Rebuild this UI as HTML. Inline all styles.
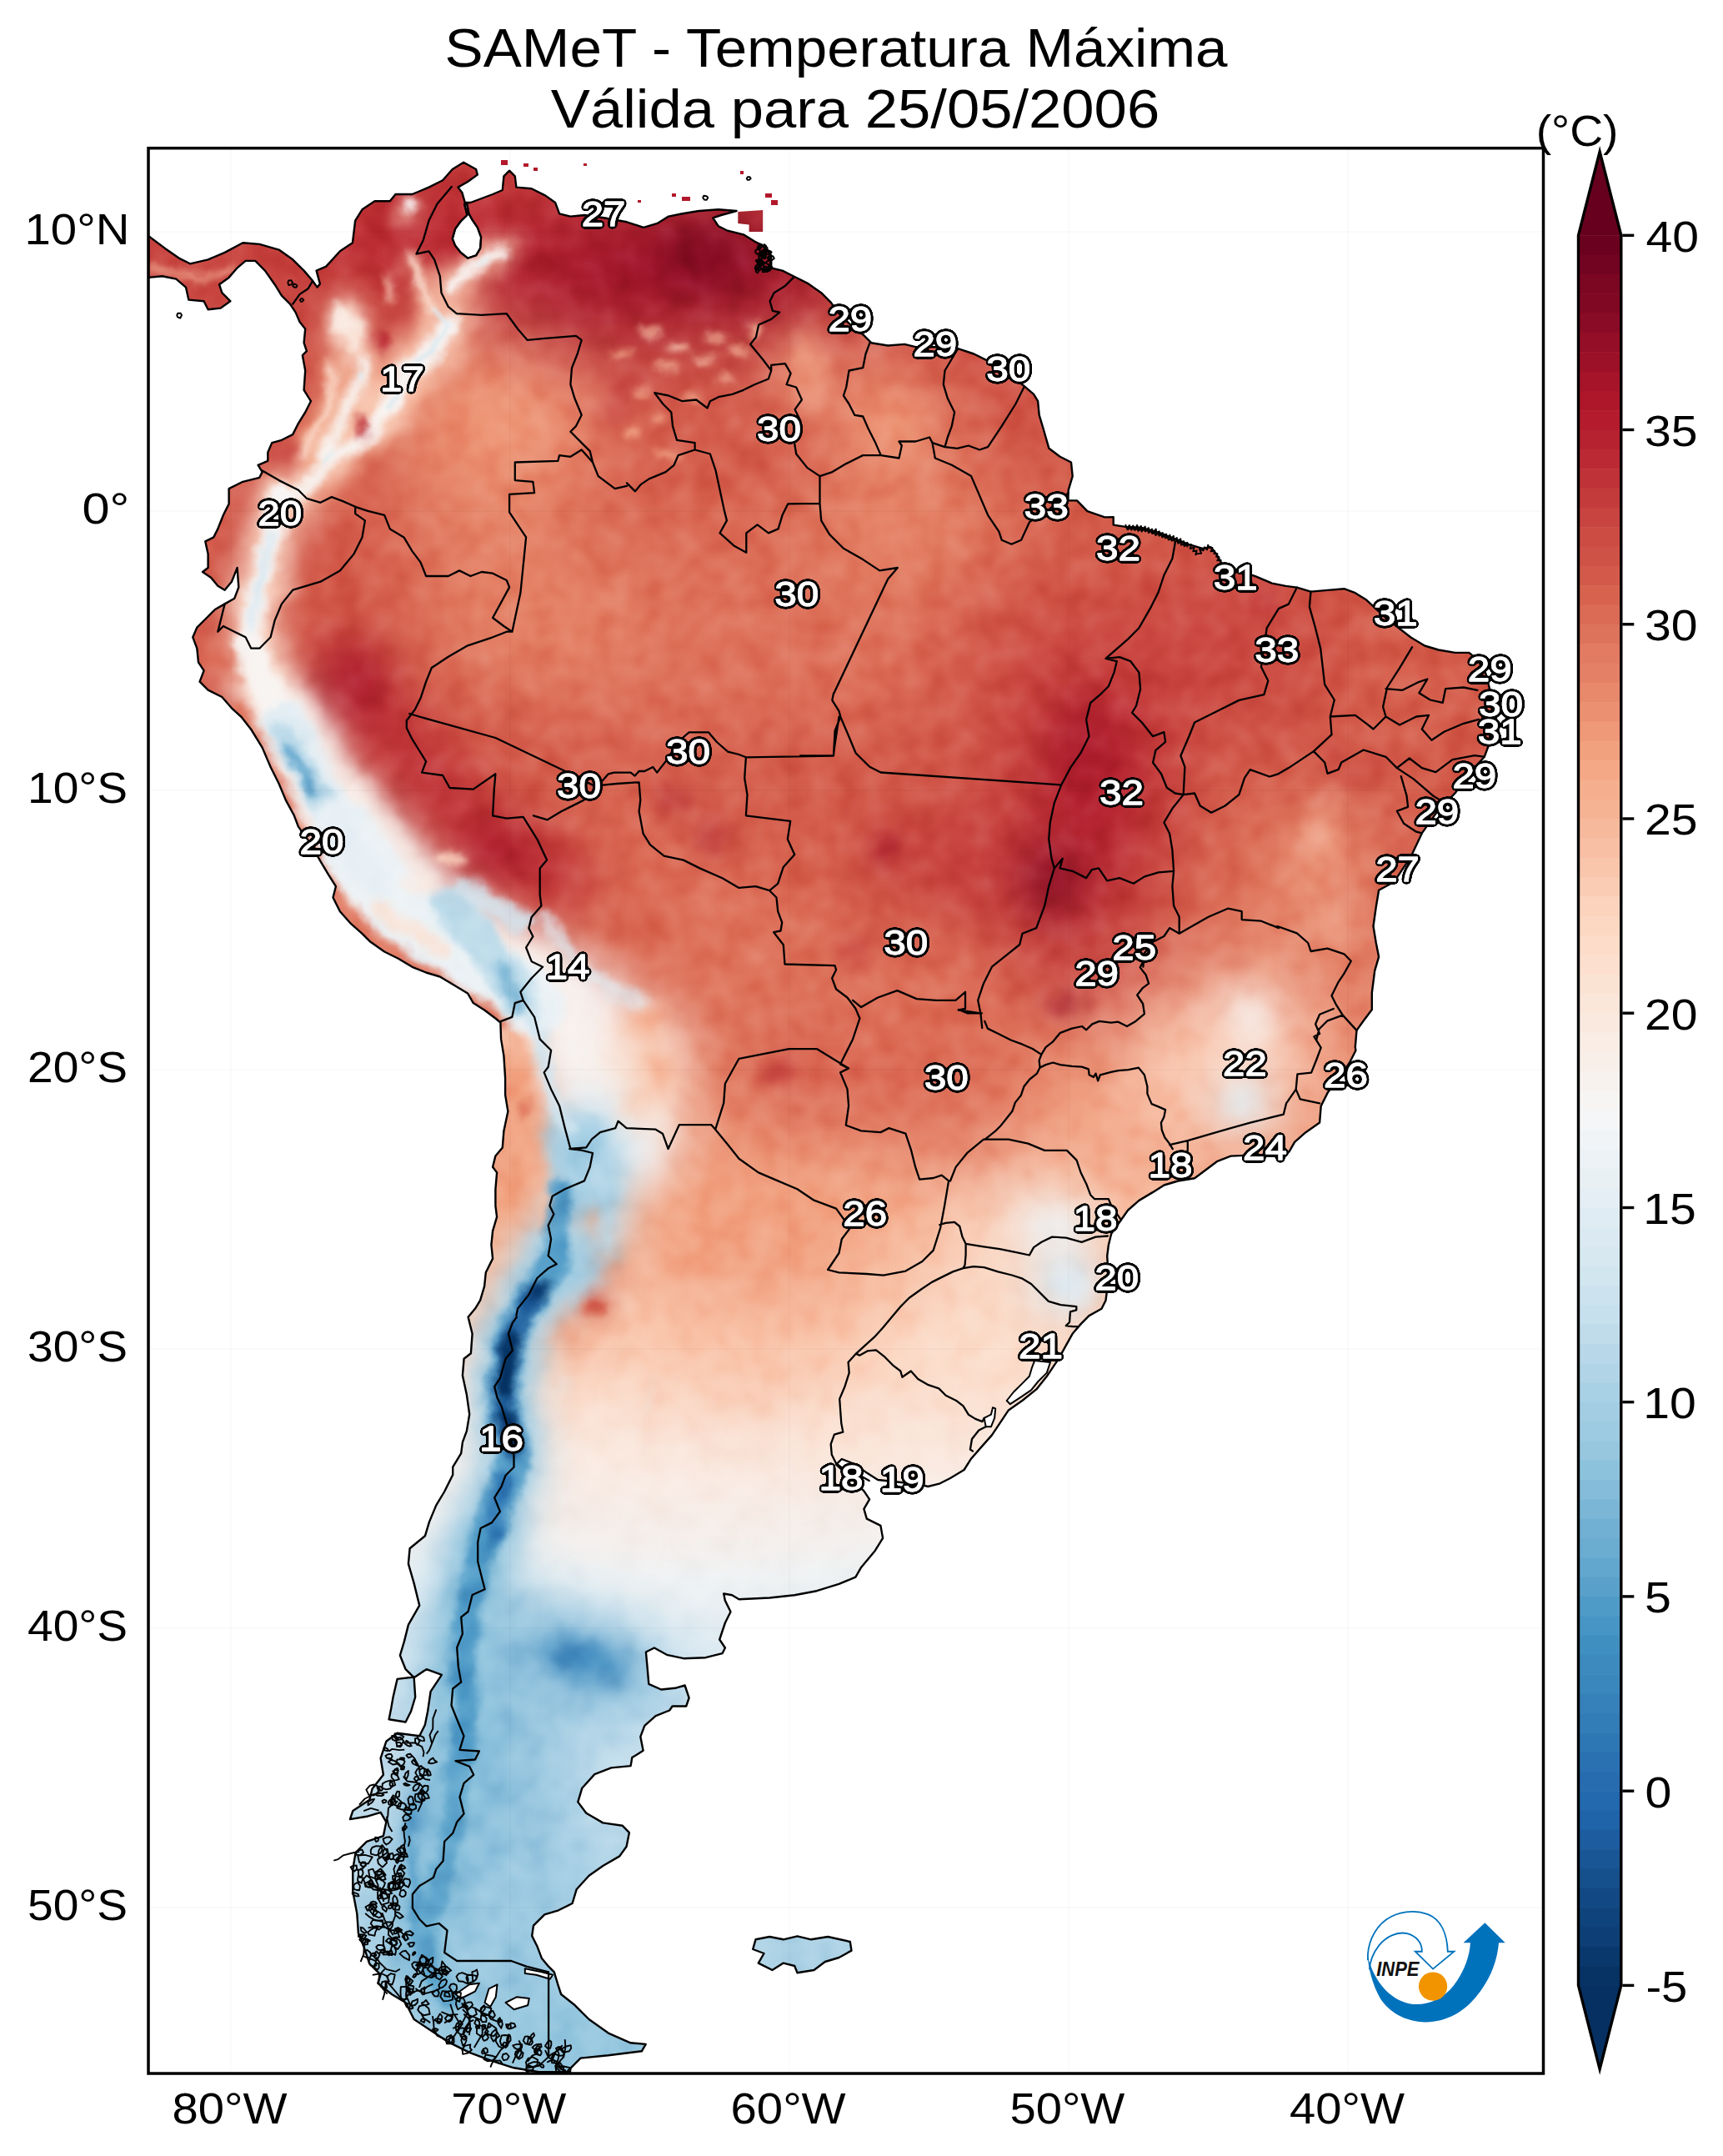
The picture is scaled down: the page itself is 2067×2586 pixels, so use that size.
<!DOCTYPE html>
<html><head><meta charset="utf-8"><title>SAMeT - Temperatura Máxima</title>
<style>html,body{margin:0;padding:0;background:#fff}svg{display:block}text{font-family:"Liberation Sans",sans-serif}</style></head><body>
<svg width="2067" height="2586" viewBox="0 0 2067 2586">
<rect width="2067" height="2586" fill="#fff"/>
<defs>
<clipPath id="frame"><rect x="178" y="177.7" width="1673.5" height="2309.3"/></clipPath>
<clipPath id="land"><path d="M178 282.9 L198 297.9 L214.6 309.6 L228 316.3 L249.6 311.3 L269.6 302.9 L291.3 291.3 L311.3 292.9 L334.6 299.6 L351.2 311.3 L364.6 324.6 L374.6 336.2 L380.6 344.6 L383.9 340.6 L379.6 324.6 L391.2 319.6 L407.9 301.3 L422.9 291.3 L426.2 264.6 L434.5 251.3 L449.5 241.3 L467.8 241.3 L474.5 233 L494.5 233 L514.5 224.6 L531.1 216.3 L542.8 203 L556.1 194.7 L571.1 203 L572.8 209.6 L561.1 218 L549.5 224.6 L554.5 231.3 L557.8 243 L564.4 243 L577.8 238 L591.1 233 L602.8 228 L604.4 211.3 L611.1 204.7 L617.8 211.3 L619.4 224.6 L637.7 226.3 L654.4 234.6 L666.1 243 L671.1 256.3 L684.4 259.6 L701 258 L724.4 261.3 L752 266.3 L772 272.9 L788.6 267.9 L802 259.6 L818.6 256.3 L838.6 253 L861.9 251.3 L883.6 253 L865.3 258 L855.3 261.3 L861.9 271.3 L871.9 276.3 L891.9 281.3 L905.2 289.6 L915.2 294.6 L925.2 306.3 L925.2 321.3 L938.6 324.6 L951.9 331.2 L968.5 339.6 L985.2 351.2 L996.9 362.9 L1005.2 374.6 L1018.5 387.9 L1035.2 401.2 L1045.2 411.2 L1065.2 414.5 L1085.1 412.9 L1098.5 416.2 L1121.8 416.2 L1148.4 417.9 L1168.4 424.5 L1185.1 432.9 L1208.4 447.8 L1228.4 462.8 L1240.1 472.8 L1245.1 481.2 L1246.7 497.8 L1251.7 514.5 L1258.4 537.8 L1271.7 547.8 L1285 554.5 L1286.7 571.1 L1281.7 587.8 L1281.4 600.4 L1292 600.4 L1304.4 613.1 L1325.3 620.4 L1335.7 620.3 L1335.7 629.6 L1350.3 631.9 L1369.3 632.9 L1392.6 639.6 L1409.3 646.3 L1425.9 652.9 L1442.6 657.9 L1452.6 656.3 L1459.3 664.6 L1465.9 676.3 L1485.9 684.6 L1505.9 691.2 L1525.9 699.6 L1542.5 702.9 L1555.9 704.6 L1572.5 709.6 L1592.5 707.9 L1612.5 706.2 L1625.8 711.2 L1639.2 719.6 L1662.5 741.2 L1692.5 764.5 L1709.1 774.5 L1725.8 779.5 L1745.8 782.9 L1762.4 782.9 L1772.4 791.2 L1782.4 807.8 L1787.4 827.8 L1790.7 857.8 L1785.7 894.5 L1780.7 907.8 L1765.8 924.4 L1745.8 951.1 L1725.8 971.1 L1705.8 999.4 L1692.5 1027.7 L1672.5 1057.7 L1654.1 1067.7 L1650.8 1087.7 L1647.5 1111 L1650.8 1131 L1654.1 1147.7 L1649.2 1164.3 L1645.8 1191 L1645.8 1211 L1635.8 1224.3 L1627.5 1235.9 L1625.8 1255.9 L1626.4 1260 L1619.7 1273.3 L1606.4 1293.3 L1593.1 1309.9 L1584.7 1326.6 L1583.1 1346.6 L1566.4 1358.2 L1553.1 1369.9 L1546.4 1381.6 L1516.4 1384.9 L1476.5 1386.6 L1459.8 1393.2 L1446.5 1403.2 L1433.1 1413.2 L1413.2 1416.5 L1396.5 1421.5 L1383.2 1429.9 L1366.5 1439.9 L1353.2 1451.5 L1344.9 1463.2 L1333.2 1479.8 L1329.9 1493.2 L1328.2 1506.5 L1329.9 1533.1 L1326.5 1559.8 L1321.5 1569.8 L1306.5 1578.1 L1296.6 1588.1 L1286.6 1599.8 L1278.2 1614.8 L1269.9 1629.8 L1256.6 1649.7 L1243.3 1666.4 L1226.6 1679.7 L1209.9 1691.4 L1199.9 1706.4 L1189.9 1721.4 L1176.6 1736.4 L1165 1749.7 L1156.6 1763 L1140 1773 L1126.7 1779.7 L1113.3 1783 L1100 1779.7 L1083.1 1778.3 L1053.1 1775 L1039.8 1766.6 L1026.4 1756.6 L1009.8 1750 L1003.1 1756.6 L1023.1 1775 L1036.4 1788.3 L1043.1 1798.3 L1036.4 1809.9 L1039.8 1821.6 L1056.4 1829.9 L1059.1 1844.9 L1049.8 1859.9 L1033.1 1879.9 L1026.4 1891.6 L1006.5 1899.9 L979.8 1908.2 L953.2 1913.2 L923.2 1916.5 L886.5 1918.2 L878.2 1913.2 L868.2 1911.5 L869.9 1919.9 L876.5 1933.2 L869.9 1946.5 L863.2 1966.5 L869.9 1976.5 L866.5 1983.2 L846.5 1988.2 L819.9 1989.2 L799.9 1984.8 L784.9 1976.5 L774.9 1981.5 L776.6 1999.8 L778.3 2019.8 L793.2 2026.5 L809.9 2024.8 L821.6 2021.5 L826.6 2036.5 L823.2 2046.5 L806.6 2046.5 L803.2 2051.5 L786.6 2058.1 L773.3 2069.8 L768.3 2083.1 L771.6 2099.8 L758.3 2108.1 L756.6 2118.1 L733.3 2120.4 L713.3 2128.1 L698.3 2144.7 L693.3 2161.4 L703.3 2174.7 L723.3 2186.4 L746.6 2189.7 L754.9 2198.1 L751.6 2214.7 L743.3 2226.4 L723.3 2238 L706.6 2249.7 L691.6 2266.3 L686.6 2283 L670 2291.3 L653.3 2296.3 L640 2309.7 L638.2 2322 L644.8 2335.3 L649.8 2348.7 L658.1 2358.7 L664.8 2365.3 L669.8 2382 L673.1 2392 L689.8 2405.3 L706.5 2422 L729.8 2438.6 L756.4 2450.3 L774.7 2451.9 L769.8 2460.3 L729.8 2465.3 L696.5 2468.6 L679.8 2485.3 L646.5 2485.3 L616.5 2480.3 L589.9 2471.9 L563.2 2461.9 L536.5 2448.6 L516.6 2435.3 L496.6 2422 L486.6 2402 L469.9 2392 L453.3 2378.7 L456.6 2368.7 L443.3 2355.3 L436.6 2335.3 L429.9 2318.7 L428.3 2295.4 L423.3 2268.7 L423.3 2242.1 L426.6 2222.1 L439.9 2208.8 L459.9 2202.1 L463.3 2185.4 L456.6 2173.8 L439.9 2178.8 L419.9 2182.1 L423.3 2172.1 L443.3 2158.8 L446.6 2145.5 L459.9 2128.8 L456.6 2108.8 L463.3 2088.8 L476.6 2078.8 L503.2 2082.2 L509.9 2068.8 L513.2 2052.2 L516.6 2028.9 L529.9 2008.9 L511.6 2002.2 L496.6 2012.2 L486.6 2002.2 L479.9 1985.5 L484.9 1968.9 L489.9 1948.9 L503.2 1925.6 L496.6 1898.9 L489.9 1875.6 L491.6 1857.3 L509.9 1842.3 L514.9 1825.6 L523.2 1805.6 L533.2 1789 L543.2 1769 L543.2 1759.7 L553.2 1743.1 L554.9 1729.8 L559.9 1716.4 L563.2 1696.4 L559.9 1673.1 L554.9 1649.8 L556.6 1629.8 L564.9 1623.2 L566.6 1599.8 L561.6 1579.8 L569.9 1569.8 L576.1 1559.6 L581.1 1542.9 L582.8 1526.3 L591.1 1509.6 L589.4 1493 L591.1 1476.3 L596.1 1459.7 L594.4 1446.3 L594.4 1426.3 L596.1 1406.4 L591.1 1399.7 L594.4 1386.4 L602.8 1376.4 L604.4 1356.4 L609.4 1333.1 L606.1 1313.1 L606.1 1293.1 L604.4 1266.4 L601.1 1246.4 L600.4 1226.5 L594.4 1221.5 L581.1 1211.5 L567.8 1203.1 L561.1 1191.5 L544.5 1181.5 L527.8 1171.5 L511.1 1166.5 L494.5 1159.8 L477.8 1149.8 L461.2 1141.5 L444.5 1129.8 L434.5 1119.9 L421.2 1108.2 L407.9 1093.2 L399.5 1076.5 L402.9 1063.2 L394.5 1049.9 L384.5 1033.2 L371.2 1009.9 L357.9 991.6 L352.9 978.3 L342.9 959.9 L334.6 940 L324.6 920 L314.6 896.6 L301.3 875 L289.6 860 L277.9 849.3 L266.3 836 L249.6 827.6 L239.6 817.6 L244.6 804.3 L238 794.3 L236.3 777.7 L231.3 764.3 L236.3 752.7 L248 741 L258 731 L269.6 724.4 L281.3 717.7 L286.3 704.4 L284.6 681 L277.9 697.7 L269.6 707.7 L261.3 702.7 L253 692.7 L243 686 L249.6 681 L249.6 664.4 L246.3 649.4 L256.3 644.4 L261.3 634.4 L267.9 617.8 L274.6 604.4 L274.6 586.1 L291.3 577.8 L311.3 572.8 L314.6 566.1 L309.6 557.8 L321.3 552.8 L321.3 542.8 L326.2 531.1 L337.9 527.8 L351.2 521.1 L357.9 507.8 L366.2 494.5 L372.9 481.2 L364.6 467.8 L366.2 444.5 L362.9 426.2 L367.9 421.2 L364.6 411.2 L366.2 394.5 L359.6 386.2 L354.6 374.6 L347.9 364.6 L337.9 354.6 L329.6 341.2 L317.9 324.6 L306.3 312.9 L294.6 312.9 L284.6 321.3 L274.6 332.9 L263 341.2 L266.3 351.2 L276.3 361.2 L264.6 369.6 L249.6 371.2 L244.6 361.2 L226.3 359.6 L223 344.6 L211.3 334.6 L194.7 331.2 L178 332.9 Z M906.5 2326.3 L923.2 2323 L939.8 2326.3 L956.5 2322.3 L973.1 2326.3 L993.1 2323 L1019.8 2329 L1021.5 2339.6 L1006.5 2348 L989.8 2353 L976.5 2363 L956.5 2366.3 L953.2 2358 L939.8 2354.6 L926.5 2363 L909.8 2354.6 L916.5 2343 L903.2 2338 Z M885.3 254 L915.2 252 L915.2 277.9 L898.6 277.9 L898.6 269.6 L885.3 267.9 Z M476.6 2013.9 L496.6 2011.5 L498.2 2035.5 L493.2 2052.2 L486.6 2065.5 L466.6 2062.2 L469.3 2048.8 L471.6 2035.5 Z" clip-rule="nonzero"/></clipPath>
<filter id="b25" color-interpolation-filters="sRGB" x="-50%" y="-50%" width="200%" height="200%"><feGaussianBlur stdDeviation="25"/></filter>
<filter id="b50" color-interpolation-filters="sRGB" x="-50%" y="-50%" width="200%" height="200%"><feGaussianBlur stdDeviation="50"/></filter>
<filter id="w12" color-interpolation-filters="sRGB" filterUnits="userSpaceOnUse" x="170" y="170" width="1690" height="2330"><feGaussianBlur stdDeviation="12" result="bl"/><feTurbulence type="fractalNoise" baseFrequency="0.022" numOctaves="3" seed="7" result="n"/><feDisplacementMap in="bl" in2="n" scale="26" xChannelSelector="R" yChannelSelector="G"/></filter>
<filter id="w5" color-interpolation-filters="sRGB" filterUnits="userSpaceOnUse" x="170" y="170" width="1690" height="2330"><feGaussianBlur stdDeviation="5" result="bl"/><feTurbulence type="fractalNoise" baseFrequency="0.035" numOctaves="3" seed="7" result="n"/><feDisplacementMap in="bl" in2="n" scale="16" xChannelSelector="R" yChannelSelector="G"/></filter>
<filter id="w2" color-interpolation-filters="sRGB" filterUnits="userSpaceOnUse" x="170" y="170" width="1690" height="2330"><feGaussianBlur stdDeviation="2" result="bl"/><feTurbulence type="fractalNoise" baseFrequency="0.06" numOctaves="3" seed="7" result="n"/><feDisplacementMap in="bl" in2="n" scale="6" xChannelSelector="R" yChannelSelector="G"/></filter>
<filter id="tex" color-interpolation-filters="sRGB" filterUnits="userSpaceOnUse" x="170" y="170" width="1690" height="2330"><feTurbulence type="fractalNoise" baseFrequency="0.03" numOctaves="2" seed="5"/><feColorMatrix type="matrix" values="1.3 0 0 0 -0.15  1.3 0 0 0 -0.15  1.3 0 0 0 -0.15  0 0 0 0 1"/></filter>
<linearGradient id="base" gradientUnits="userSpaceOnUse" x1="0" y1="177.7" x2="0" y2="2487">
<stop offset="-0.0001" stop-color="#c53e3d"/>
<stop offset="0.0724" stop-color="#c94741"/>
<stop offset="0.1885" stop-color="#d6604d"/>
<stop offset="0.3046" stop-color="#d25849"/>
<stop offset="0.3916" stop-color="#d6604d"/>
<stop offset="0.4786" stop-color="#e6866a"/>
<stop offset="0.5512" stop-color="#f6b191"/>
<stop offset="0.6237" stop-color="#fcd5bf"/>
<stop offset="0.6817" stop-color="#faeae1"/>
<stop offset="0.7397" stop-color="#eff3f5"/>
<stop offset="0.7978" stop-color="#dae9f2"/>
<stop offset="0.8558" stop-color="#c2ddec"/>
<stop offset="0.9138" stop-color="#b6d7e8"/>
<stop offset="1.0009" stop-color="#98c8e0"/>
</linearGradient>
</defs>
<g clip-path="url(#frame)">
<g clip-path="url(#land)">
<rect x="178" y="177.7" width="1673.5" height="2309.3" fill="url(#base)"/>
<g filter="url(#b50)">
<ellipse cx="790" cy="338" rx="230" ry="92" fill="#a51429" fill-opacity="0.97"/>
<ellipse cx="850" cy="305" rx="100" ry="50" fill="#870a24" fill-opacity="0.92"/>
<ellipse cx="700" cy="330" rx="80" ry="50" fill="#9f1228" fill-opacity="0.7"/>
<ellipse cx="470" cy="290" rx="80" ry="60" fill="#b61f2e" fill-opacity="0.9"/>
<ellipse cx="585" cy="300" rx="60" ry="60" fill="#b61f2e" fill-opacity="0.8"/>
<ellipse cx="600" cy="500" rx="130" ry="110" fill="#f09c7b" fill-opacity="0.95"/>
<ellipse cx="560" cy="640" rx="110" ry="70" fill="#e6866a" fill-opacity="0.7"/>
<ellipse cx="830" cy="455" rx="110" ry="55" fill="#db6b55" fill-opacity="0.8"/>
<ellipse cx="760" cy="440" rx="50" ry="45" fill="#c94741" fill-opacity="0.6"/>
<ellipse cx="985" cy="450" rx="60" ry="70" fill="#e6866a" fill-opacity="0.8"/>
<ellipse cx="1070" cy="500" rx="75" ry="65" fill="#f09c7b" fill-opacity="0.95"/>
<ellipse cx="1190" cy="500" rx="60" ry="70" fill="#d25849" fill-opacity="0.7"/>
<ellipse cx="850" cy="760" rx="320" ry="140" fill="#df765e" fill-opacity="0.85"/>
<ellipse cx="760" cy="1000" rx="90" ry="60" fill="#e27b62" fill-opacity="0.6"/>
<ellipse cx="1090" cy="630" rx="130" ry="70" fill="#e8896c" fill-opacity="0.85"/>
<ellipse cx="640" cy="740" rx="140" ry="90" fill="#e6866a" fill-opacity="0.85"/>
<ellipse cx="300" cy="640" rx="50" ry="60" fill="#c94741" fill-opacity="0.8"/>
<ellipse cx="430" cy="650" rx="50" ry="50" fill="#ce4f45" fill-opacity="0.7"/>
<ellipse cx="1300" cy="800" rx="170" ry="110" fill="#ce4f45" fill-opacity="0.8"/>
<ellipse cx="1480" cy="760" rx="120" ry="110" fill="#c94741" fill-opacity="0.8"/>
<ellipse cx="1312" cy="950" rx="72" ry="150" fill="#b1182b" fill-opacity="0.95"/>
<ellipse cx="1262" cy="1057" rx="60" ry="70" fill="#991027" fill-opacity="0.9"/>
<ellipse cx="1180" cy="1030" rx="120" ry="60" fill="#c13639" fill-opacity="0.8"/>
<ellipse cx="1290" cy="1130" rx="70" ry="70" fill="#c13639" fill-opacity="0.8"/>
<ellipse cx="1690" cy="830" rx="60" ry="90" fill="#da6853" fill-opacity="0.7"/>
<ellipse cx="1570" cy="1080" rx="100" ry="120" fill="#e6866a" fill-opacity="0.9"/>
<ellipse cx="1475" cy="1270" rx="130" ry="95" fill="#fbd0b9" fill-opacity="0.97"/>
<ellipse cx="1440" cy="1330" rx="80" ry="50" fill="#fcd5bf" fill-opacity="0.8"/>
<ellipse cx="1600" cy="1290" rx="40" ry="50" fill="#ee9677" fill-opacity="0.8"/>
<ellipse cx="880" cy="1110" rx="100" ry="70" fill="#e48066" fill-opacity="0.7"/>
<ellipse cx="1130" cy="1280" rx="120" ry="100" fill="#da6853" fill-opacity="0.9"/>
<ellipse cx="960" cy="1290" rx="90" ry="60" fill="#d55d4c" fill-opacity="0.9"/>
<ellipse cx="1300" cy="1345" rx="85" ry="50" fill="#f5ac8b" fill-opacity="0.9"/>
<ellipse cx="1240" cy="1480" rx="100" ry="70" fill="#fbe4d6" fill-opacity="0.9"/>
<ellipse cx="1180" cy="1620" rx="100" ry="70" fill="#fbe4d6" fill-opacity="0.7"/>
<ellipse cx="900" cy="1480" rx="150" ry="90" fill="#f09c7b" fill-opacity="0.9"/>
<ellipse cx="900" cy="1620" rx="140" ry="70" fill="#f8bda1" fill-opacity="0.7"/>
<ellipse cx="850" cy="1800" rx="200" ry="50" fill="#faeae1" fill-opacity="0.6"/>
<ellipse cx="700" cy="2100" rx="200" ry="120" fill="#cae1ee" fill-opacity="0.6"/>
<ellipse cx="590" cy="2150" rx="90" ry="240" fill="#87beda" fill-opacity="0.9"/>
<ellipse cx="560" cy="2050" rx="60" ry="120" fill="#78b4d5" fill-opacity="0.6"/>
<ellipse cx="640" cy="2330" rx="200" ry="110" fill="#a0cce2" fill-opacity="0.8"/>
<ellipse cx="690" cy="2440" rx="150" ry="60" fill="#90c4dd" fill-opacity="0.8"/>
</g>
<g filter="url(#b25)">
<path d="M418 800 L458 870 L538 960 L612 1025 L665 1050" fill="none" stroke="#bf3338" stroke-width="86" stroke-opacity="0.95" stroke-linecap="round" stroke-linejoin="round"/>
<ellipse cx="425" cy="819" rx="42" ry="42" fill="#a81529" fill-opacity="0.85"/>
<ellipse cx="596" cy="1022" rx="50" ry="30" fill="#a81529" fill-opacity="0.85"/>
<ellipse cx="1262" cy="1057" rx="32" ry="42" fill="#7f0823" fill-opacity="0.85"/>
<ellipse cx="1300" cy="900" rx="30" ry="60" fill="#9f1228" fill-opacity="0.6"/>
<ellipse cx="845" cy="305" rx="45" ry="28" fill="#760521" fill-opacity="0.8"/>
<path d="M560 340 L540 390 L500 430 L470 480 L420 530 L385 570 L340 620" fill="none" stroke="#f7b799" stroke-width="36" stroke-opacity="0.7" stroke-linecap="round" stroke-linejoin="round"/>
<path d="M415 370 L410 420 L425 460 L405 520 L380 570" fill="none" stroke="#f5aa89" stroke-width="34" stroke-opacity="0.7" stroke-linecap="round" stroke-linejoin="round"/>
<path d="M337 592 L320 660 L305 718 L300 760 L312 820" fill="none" stroke="#fce2d2" stroke-width="42" stroke-opacity="0.95" stroke-linecap="round" stroke-linejoin="round"/>
<path d="M312 820 L340 860" fill="none" stroke="#faeae1" stroke-width="70" stroke-opacity="0.97" stroke-linecap="round" stroke-linejoin="round"/>
<path d="M347 872 L380 944 L420 1010" fill="none" stroke="#f3f5f6" stroke-width="84" stroke-opacity="0.97" stroke-linecap="round" stroke-linejoin="round"/>
<path d="M420 1010 L470 1075 L530 1125 L590 1165 L640 1200" fill="none" stroke="#eff3f5" stroke-width="124" stroke-opacity="0.97" stroke-linecap="round" stroke-linejoin="round"/>
<path d="M645 1200 L700 1240 L732 1300 L742 1360" fill="none" stroke="#f5f6f7" stroke-width="150" stroke-opacity="0.97" stroke-linecap="round" stroke-linejoin="round"/>
<ellipse cx="750" cy="1255" rx="75" ry="60" fill="#f8f2ef" fill-opacity="0.92"/>
<ellipse cx="790" cy="1300" rx="40" ry="60" fill="#fce2d2" fill-opacity="0.7"/>
<path d="M700 1380 L695 1440 L678 1500" fill="none" stroke="#cae1ee" stroke-width="120" stroke-opacity="0.95" stroke-linecap="round" stroke-linejoin="round"/>
<path d="M665 1510 L646 1545 L625 1577 L611 1608 L609 1639 L602 1671 L606 1702 L617 1733 L613 1765 L600 1796 L590 1827 L579 1852" fill="none" stroke="#b6d7e8" stroke-width="72" stroke-opacity="0.95" stroke-linecap="round" stroke-linejoin="round"/>
<path d="M579 1852 L565 1920 L555 1990 L560 2080 L545 2180 L520 2280 L510 2340" fill="none" stroke="#87beda" stroke-width="80" stroke-opacity="0.92" stroke-linecap="round" stroke-linejoin="round"/>
<path d="M612 1240 L626 1320 L630 1400 L612 1470" fill="none" stroke="#f3a481" stroke-width="40" stroke-opacity="0.95" stroke-linecap="round" stroke-linejoin="round"/>
<ellipse cx="696" cy="1992" rx="78" ry="40" fill="#3783bb" fill-opacity="0.97" transform="rotate(15 696 1992)"/>
<ellipse cx="690" cy="1998" rx="130" ry="75" fill="#98c8e0" fill-opacity="0.7" transform="rotate(15 690 1998)"/>
<ellipse cx="1492" cy="1322" rx="38" ry="30" fill="#e6eff4" fill-opacity="0.95"/>
<ellipse cx="1500" cy="1225" rx="30" ry="45" fill="#f8f4f2" fill-opacity="0.9"/>
<ellipse cx="1278" cy="1538" rx="40" ry="42" fill="#ddebf2" fill-opacity="0.95"/>
<ellipse cx="1262" cy="1468" rx="45" ry="28" fill="#eff3f5" fill-opacity="0.9"/>
<ellipse cx="1585" cy="1010" rx="25" ry="45" fill="#f7b799" fill-opacity="0.8"/>
<ellipse cx="1600" cy="1110" rx="20" ry="30" fill="#f8bda1" fill-opacity="0.8"/>
<ellipse cx="1075" cy="512" rx="35" ry="30" fill="#f3a481" fill-opacity="0.7"/>
<ellipse cx="960" cy="445" rx="28" ry="42" fill="#f3a481" fill-opacity="0.7"/>
<ellipse cx="700" cy="1600" rx="35" ry="40" fill="#f09c7b" fill-opacity="0.6"/>
<path d="M575 1640 L560 1720 L535 1800 L515 1900 L490 1980" fill="none" stroke="#e6eff4" stroke-width="28" stroke-opacity="0.8" stroke-linecap="round" stroke-linejoin="round"/>
<path d="M490 1980 L480 2080 L470 2160" fill="none" stroke="#d5e7f1" stroke-width="30" stroke-opacity="0.7" stroke-linecap="round" stroke-linejoin="round"/>
<ellipse cx="1063" cy="1020" rx="22" ry="22" fill="#ba2832" fill-opacity="0.7"/>
<ellipse cx="808" cy="958" rx="18" ry="18" fill="#be3036" fill-opacity="0.7"/>
<ellipse cx="855" cy="1003" rx="18" ry="18" fill="#be3036" fill-opacity="0.7"/>
<ellipse cx="1010" cy="1720" rx="60" ry="40" fill="#fbe4d6" fill-opacity="0.6"/>
<ellipse cx="770" cy="1250" rx="30" ry="45" fill="#f7b799" fill-opacity="0.7"/>
</g>
<g filter="url(#w12)">
<ellipse cx="700" cy="1990" rx="48" ry="22" fill="#3b88be" fill-opacity="0.9" transform="rotate(15 700 1990)"/>
<ellipse cx="1490" cy="1325" rx="18" ry="14" fill="#e1edf3" fill-opacity="0.85"/>
<ellipse cx="1500" cy="1218" rx="8" ry="18" fill="#f7f6f6" fill-opacity="0.8"/>
<ellipse cx="1283" cy="1540" rx="20" ry="24" fill="#dae9f2" fill-opacity="0.85"/>
<ellipse cx="1265" cy="1468" rx="28" ry="12" fill="#eff3f5" fill-opacity="0.8"/>
<path d="M539 345 L553 333 L570 319 L586 309 L602 300" fill="none" stroke="#fac8af" stroke-width="34.5" stroke-opacity="0.8" stroke-linecap="round" stroke-linejoin="round"/>
<path d="M539 390 L530 404 L518 420 L504 432 L487 448 L476 470 L466 490" fill="none" stroke="#fbceb7" stroke-width="57.5" stroke-opacity="0.8" stroke-linecap="round" stroke-linejoin="round"/>
<path d="M518 370 L511 357 L504 343 L500 326 L495 310" fill="none" stroke="#f7b799" stroke-width="23" stroke-opacity="0.8" stroke-linecap="round" stroke-linejoin="round"/>
<path d="M466 490 L455 505 L443 519 L428 533 L414 542 L400 549 L389 558 L379 572 L365 586 L347 600" fill="none" stroke="#fbceb7" stroke-width="39.1" stroke-opacity="0.8" stroke-linecap="round" stroke-linejoin="round"/>
<ellipse cx="418" cy="395" rx="24" ry="40" fill="#fcdecd" fill-opacity="0.9"/>
<path d="M434 432 L433 453 L427 467 L420 481 L413 495 L407 509 L400 525 L389 544" fill="none" stroke="#fbceb7" stroke-width="29.9" stroke-opacity="0.8" stroke-linecap="round" stroke-linejoin="round"/>
<path d="M396 439 L400 457 L396 474 L391 491 L382 509 L372 530 L361 547" fill="none" stroke="#f6b191" stroke-width="20.7" stroke-opacity="0.8" stroke-linecap="round" stroke-linejoin="round"/>
<ellipse cx="491" cy="250" rx="16" ry="14" fill="#fbceb7" fill-opacity="0.8"/>
<ellipse cx="344" cy="544" rx="16" ry="14" fill="#be3036" fill-opacity="0.8"/>
<path d="M337 592 L326 637 L320 660 L320 683 L310 703 L305 718 L303 739 L301 758 L297 774" fill="none" stroke="#fddbc7" stroke-width="41.6" stroke-opacity="0.8" stroke-linecap="round" stroke-linejoin="round"/>
<path d="M297 774 L307 800 L322 830 L336 858" fill="none" stroke="#fce2d2" stroke-width="64" stroke-opacity="0.8" stroke-linecap="round" stroke-linejoin="round"/>
<path d="M340 866 L358 895 L372 925 L390 960 L410 995" fill="none" stroke="#f9eee7" stroke-width="83.2" stroke-opacity="0.8" stroke-linecap="round" stroke-linejoin="round"/>
<path d="M410 995 L440 1040 L475 1085 L520 1122 L565 1150 L605 1178 L640 1205" fill="none" stroke="#f9eee7" stroke-width="114" stroke-opacity="0.8" stroke-linecap="round" stroke-linejoin="round"/>
<ellipse cx="265" cy="790" rx="25" ry="30" fill="#da6853" fill-opacity="0.9"/>
<path d="M612 1240 L624 1300 L629 1335 L630 1400 L618 1450" fill="none" stroke="#f3a481" stroke-width="34" stroke-opacity="0.9" stroke-linecap="round" stroke-linejoin="round"/>
<ellipse cx="775" cy="1225" rx="20" ry="22" fill="#f6b191" fill-opacity="0.8"/>
<ellipse cx="790" cy="1290" rx="16" ry="28" fill="#f6b191" fill-opacity="0.8"/>
<ellipse cx="765" cy="1330" rx="14" ry="22" fill="#f9c4a9" fill-opacity="0.7"/>
<path d="M695 1375 L705 1430 L700 1480 L685 1525" fill="none" stroke="#a0cce2" stroke-width="78" stroke-opacity="0.9" stroke-linecap="round" stroke-linejoin="round"/>
<ellipse cx="715" cy="1470" rx="18" ry="26" fill="#f6b191" fill-opacity="0.7"/>
<ellipse cx="745" cy="1520" rx="16" ry="30" fill="#f5aa89" fill-opacity="0.7"/>
<path d="M665 1510 L646 1545 L625 1577 L611 1608 L609 1639 L602 1671 L606 1702 L617 1733 L613 1765 L600 1796 L590 1827 L579 1852" fill="none" stroke="#a7d0e4" stroke-width="68" stroke-opacity="0.8" stroke-linecap="round" stroke-linejoin="round"/>
<ellipse cx="717" cy="1564" rx="20" ry="16" fill="#dc6e57" fill-opacity="0.9"/>
<ellipse cx="678" cy="1600" rx="14" ry="18" fill="#ee9677" fill-opacity="0.8"/>
<ellipse cx="730" cy="1530" rx="16" ry="14" fill="#ea8e70" fill-opacity="0.7"/>
<path d="M579 1852 L566 1900 L560 1950 L555 2000 L560 2060 L550 2120" fill="none" stroke="#90c4dd" stroke-width="57" stroke-opacity="0.8" stroke-linecap="round" stroke-linejoin="round"/>
<path d="M550 2120 L540 2200 L525 2270 L505 2320 L520 2370 L540 2400" fill="none" stroke="#90c4dd" stroke-width="49.4" stroke-opacity="0.8" stroke-linecap="round" stroke-linejoin="round"/>
<ellipse cx="500" cy="2180" rx="14" ry="40" fill="#3f8ec0" fill-opacity="0.6"/>
<ellipse cx="745" cy="470" rx="14" ry="14" fill="#be3036" fill-opacity="0.7"/>
<ellipse cx="735" cy="500" rx="12" ry="12" fill="#be3036" fill-opacity="0.7"/>
<ellipse cx="765" cy="450" rx="10" ry="10" fill="#be3036" fill-opacity="0.7"/>
<ellipse cx="965" cy="430" rx="14" ry="30" fill="#f6b191" fill-opacity="0.7"/>
<ellipse cx="975" cy="470" rx="10" ry="18" fill="#f7b799" fill-opacity="0.6"/>
<ellipse cx="808" cy="958" rx="11.25" ry="11.25" fill="#a81529" fill-opacity="0.95"/>
<ellipse cx="855" cy="1003" rx="11.25" ry="11.25" fill="#a81529" fill-opacity="0.95"/>
<ellipse cx="1063" cy="1020" rx="13.75" ry="13.75" fill="#9f1228" fill-opacity="0.95"/>
<ellipse cx="1025" cy="1140" rx="11.25" ry="11.25" fill="#ba2832" fill-opacity="0.95"/>
<ellipse cx="933" cy="1283" rx="15" ry="15" fill="#be3036" fill-opacity="0.95"/>
<ellipse cx="1288" cy="1202" rx="11.25" ry="11.25" fill="#900d26" fill-opacity="0.95"/>
<ellipse cx="1264" cy="1207" rx="11.25" ry="11.25" fill="#9f1228" fill-opacity="0.95"/>
<ellipse cx="1440" cy="640" rx="10" ry="10" fill="#b1182b" fill-opacity="0.95"/>
<ellipse cx="1515" cy="720" rx="10" ry="10" fill="#b1182b" fill-opacity="0.95"/>
<ellipse cx="1600" cy="905" rx="7.5" ry="7.5" fill="#b61f2e" fill-opacity="0.95"/>
<ellipse cx="1625" cy="935" rx="7.5" ry="7.5" fill="#b61f2e" fill-opacity="0.95"/>
<ellipse cx="1655" cy="915" rx="7.5" ry="7.5" fill="#ba2832" fill-opacity="0.95"/>
<ellipse cx="1578" cy="1000" rx="10" ry="14" fill="#fac8af" fill-opacity="0.75"/>
<ellipse cx="1592" cy="1105" rx="9" ry="12" fill="#fbceb7" fill-opacity="0.75"/>
<ellipse cx="1608" cy="965" rx="8" ry="8" fill="#fcd5bf" fill-opacity="0.75"/>
<ellipse cx="1560" cy="1060" rx="8" ry="16" fill="#f7b799" fill-opacity="0.75"/>
<ellipse cx="1640" cy="1040" rx="8" ry="10" fill="#f6b191" fill-opacity="0.75"/>
<ellipse cx="1520" cy="1160" rx="10" ry="14" fill="#f7b799" fill-opacity="0.75"/>
</g>
<g filter="url(#w5)">
<path d="M539 345 L553 333 L570 319 L586 309 L602 300" fill="none" stroke="#f8f4f2" stroke-width="15" stroke-opacity="0.95" stroke-linecap="round" stroke-linejoin="round"/>
<path d="M539 390 L530 404 L518 420 L504 432 L487 448 L476 470 L466 490" fill="none" stroke="#f7f6f6" stroke-width="25" stroke-opacity="0.95" stroke-linecap="round" stroke-linejoin="round"/>
<path d="M518 370 L511 357 L504 343 L500 326 L495 310" fill="none" stroke="#fbe4d6" stroke-width="10" stroke-opacity="0.95" stroke-linecap="round" stroke-linejoin="round"/>
<path d="M466 490 L455 505 L443 519 L428 533 L414 542 L400 549 L389 558 L379 572 L365 586 L347 600" fill="none" stroke="#f8f4f2" stroke-width="17" stroke-opacity="0.95" stroke-linecap="round" stroke-linejoin="round"/>
<ellipse cx="410" cy="385" rx="12" ry="22" fill="#f9eee7" fill-opacity="0.9"/>
<ellipse cx="428" cy="402" rx="10" ry="20" fill="#faeae1" fill-opacity="0.85"/>
<path d="M434 432 L433 453 L427 467 L420 481 L413 495 L407 509 L400 525 L389 544" fill="none" stroke="#f8f4f2" stroke-width="13" stroke-opacity="0.95" stroke-linecap="round" stroke-linejoin="round"/>
<path d="M396 439 L400 457 L396 474 L391 491 L382 509 L372 530 L361 547" fill="none" stroke="#fce2d2" stroke-width="9" stroke-opacity="0.95" stroke-linecap="round" stroke-linejoin="round"/>
<path d="M467 335 L469 349 L467 359" fill="none" stroke="#fbceb7" stroke-width="8" stroke-opacity="0.85" stroke-linecap="round" stroke-linejoin="round"/>
<ellipse cx="491" cy="248" rx="9" ry="8" fill="#f7f6f6" fill-opacity="0.97"/>
<ellipse cx="460" cy="410" rx="9" ry="14" fill="#ba2832" fill-opacity="0.85"/>
<ellipse cx="434" cy="511" rx="8" ry="12" fill="#ba2832" fill-opacity="0.8"/>
<path d="M180 322 L215 330 L250 332 L280 322" fill="none" stroke="#f8bda1" stroke-width="7" stroke-opacity="0.85" stroke-linecap="round" stroke-linejoin="round"/>
<path d="M337 592 L326 637 L320 660 L320 683 L310 703 L305 718 L303 739 L301 758 L297 774" fill="none" stroke="#f7f6f6" stroke-width="26" stroke-opacity="0.95" stroke-linecap="round" stroke-linejoin="round"/>
<path d="M324 640 L320 672 L312 700 L304 725 L302 750" fill="none" stroke="#dae9f2" stroke-width="11" stroke-opacity="0.9" stroke-linecap="round" stroke-linejoin="round"/>
<path d="M297 774 L307 800 L322 830 L336 858" fill="none" stroke="#f8f4f2" stroke-width="40" stroke-opacity="0.95" stroke-linecap="round" stroke-linejoin="round"/>
<path d="M340 866 L358 895 L372 925 L390 960 L410 995" fill="none" stroke="#e1edf3" stroke-width="52" stroke-opacity="0.95" stroke-linecap="round" stroke-linejoin="round"/>
<path d="M338 880 L354 902 L366 925 L385 960 L405 995 L425 1025 L455 1055" fill="none" stroke="#b6d7e8" stroke-width="30" stroke-opacity="0.92" stroke-linecap="round" stroke-linejoin="round"/>
<path d="M346 900 L360 925 L374 950" fill="none" stroke="#5ca3cb" stroke-width="13" stroke-opacity="0.9" stroke-linecap="round" stroke-linejoin="round"/>
<path d="M410 995 L440 1040 L475 1085 L520 1122 L565 1150 L605 1178 L640 1205" fill="none" stroke="#eaf1f5" stroke-width="76" stroke-opacity="0.95" stroke-linecap="round" stroke-linejoin="round"/>
<path d="M540 1085 L570 1120 L600 1160 L622 1195" fill="none" stroke="#bbdaea" stroke-width="44" stroke-opacity="0.9" stroke-linecap="round" stroke-linejoin="round"/>
<path d="M560 1065 L590 1085 L625 1105" fill="none" stroke="#d1e5f0" stroke-width="26" stroke-opacity="0.85" stroke-linecap="round" stroke-linejoin="round"/>
<path d="M600 1160 L618 1190 L626 1205" fill="none" stroke="#81bad8" stroke-width="16" stroke-opacity="0.9" stroke-linecap="round" stroke-linejoin="round"/>
<path d="M455 1090 L495 1118 L530 1138" fill="none" stroke="#fbe4d6" stroke-width="22" stroke-opacity="0.8" stroke-linecap="round" stroke-linejoin="round"/>
<ellipse cx="538" cy="1030" rx="18" ry="10" fill="#fddbc7" fill-opacity="0.8"/>
<ellipse cx="500" cy="1060" rx="22" ry="12" fill="#faeae1" fill-opacity="0.7"/>
<path d="M285 850 L318 922 L358 1002 L398 1072 L441 1126 L490 1158 L538 1188 L575 1212 L599 1226" fill="none" stroke="#df765e" stroke-width="22" stroke-opacity="0.95" stroke-linecap="round" stroke-linejoin="round"/>
<path d="M635 1205 L648 1250 L660 1300 L675 1345 L692 1368" fill="none" stroke="#d1e5f0" stroke-width="18" stroke-opacity="0.85" stroke-linecap="round" stroke-linejoin="round"/>
<ellipse cx="692" cy="1367" rx="12" ry="12" fill="#a0cce2" fill-opacity="0.85"/>
<path d="M650 1100 L697 1159 L733 1189 L770 1203" fill="none" stroke="#e1edf3" stroke-width="16" stroke-opacity="0.7" stroke-linecap="round" stroke-linejoin="round"/>
<ellipse cx="628" cy="1330" rx="9" ry="12" fill="#df765e" fill-opacity="0.8"/>
<ellipse cx="640" cy="1400" rx="16" ry="30" fill="#f5aa89" fill-opacity="0.6"/>
<ellipse cx="655" cy="1455" rx="14" ry="22" fill="#f7b799" fill-opacity="0.6"/>
<path d="M672 1425 L668 1470 L668 1510" fill="none" stroke="#4c99c6" stroke-width="26" stroke-opacity="0.9" stroke-linecap="round" stroke-linejoin="round"/>
<path d="M715 1400 L728 1440 L725 1490" fill="none" stroke="#b6d7e8" stroke-width="16" stroke-opacity="0.7" stroke-linecap="round" stroke-linejoin="round"/>
<ellipse cx="713" cy="1568" rx="14" ry="11" fill="#da6853" fill-opacity="0.8"/>
<path d="M665 1510 L646 1545 L625 1577 L611 1608 L609 1639 L602 1671 L606 1702 L617 1733 L613 1765 L600 1796 L590 1827 L579 1852" fill="none" stroke="#529dc8" stroke-width="40" stroke-opacity="0.95" stroke-linecap="round" stroke-linejoin="round"/>
<path d="M646 1545 L628 1575 L612 1608 L609 1639 L602 1671 L606 1702 L616 1733" fill="none" stroke="#1a5899" stroke-width="24" stroke-opacity="0.97" stroke-linecap="round" stroke-linejoin="round"/>
<path d="M614 1605 L609 1640 L603 1672" fill="none" stroke="#053061" stroke-width="17" stroke-opacity="0.97" stroke-linecap="round" stroke-linejoin="round"/>
<path d="M606 1698 L617 1730" fill="none" stroke="#053061" stroke-width="16" stroke-opacity="0.97" stroke-linecap="round" stroke-linejoin="round"/>
<ellipse cx="648" cy="1547" rx="12" ry="12" fill="#0a3b70" fill-opacity="0.95"/>
<path d="M628 1575 L640 1555" fill="none" stroke="#185493" stroke-width="12" stroke-opacity="0.9" stroke-linecap="round" stroke-linejoin="round"/>
<ellipse cx="717" cy="1563" rx="7" ry="6" fill="#ce4f45" fill-opacity="0.8"/>
<path d="M683 1655 L678 1668" fill="none" stroke="#e1edf3" stroke-width="4" stroke-opacity="0.7" stroke-linecap="round" stroke-linejoin="round"/>
<path d="M783 1650 L780 1690" fill="none" stroke="#eaf1f5" stroke-width="3" stroke-opacity="0.6" stroke-linecap="round" stroke-linejoin="round"/>
<path d="M579 1852 L566 1900 L560 1950 L555 2000 L560 2060 L550 2120" fill="none" stroke="#4c99c6" stroke-width="30" stroke-opacity="0.95" stroke-linecap="round" stroke-linejoin="round"/>
<path d="M604 1772 L598 1810 L592 1840" fill="none" stroke="#246aae" stroke-width="16" stroke-opacity="0.9" stroke-linecap="round" stroke-linejoin="round"/>
<path d="M550 2120 L540 2200 L525 2270 L505 2320 L520 2370 L540 2400" fill="none" stroke="#5ca3cb" stroke-width="26" stroke-opacity="0.95" stroke-linecap="round" stroke-linejoin="round"/>
<path d="M600 1769 L596 1830 L588 1850" fill="none" stroke="#2f79b5" stroke-width="10" stroke-opacity="0.8" stroke-linecap="round" stroke-linejoin="round"/>
<path d="M495 2170 L490 2210 L500 2260 L498 2300" fill="none" stroke="#4393c3" stroke-width="12" stroke-opacity="0.7" stroke-linecap="round" stroke-linejoin="round"/>
<ellipse cx="780" cy="398" rx="14" ry="6" fill="#f9c4a9" fill-opacity="0.8"/>
<ellipse cx="815" cy="415" rx="16" ry="6" fill="#fac8af" fill-opacity="0.8"/>
<ellipse cx="860" cy="405" rx="12" ry="6" fill="#f8bda1" fill-opacity="0.8"/>
<ellipse cx="800" cy="440" rx="14" ry="5" fill="#f9c4a9" fill-opacity="0.8"/>
<ellipse cx="845" cy="430" rx="14" ry="5" fill="#fbceb7" fill-opacity="0.8"/>
<ellipse cx="885" cy="420" rx="10" ry="7" fill="#f8bda1" fill-opacity="0.8"/>
<ellipse cx="770" cy="470" rx="10" ry="5" fill="#f7b799" fill-opacity="0.8"/>
<ellipse cx="905" cy="395" rx="8" ry="12" fill="#f7b799" fill-opacity="0.8"/>
<ellipse cx="745" cy="425" rx="10" ry="6" fill="#f6b191" fill-opacity="0.8"/>
<ellipse cx="830" cy="475" rx="12" ry="5" fill="#f7b799" fill-opacity="0.8"/>
<ellipse cx="870" cy="455" rx="12" ry="5" fill="#f9c4a9" fill-opacity="0.8"/>
<ellipse cx="790" cy="500" rx="10" ry="5" fill="#f6b191" fill-opacity="0.8"/>
<ellipse cx="760" cy="520" rx="8" ry="10" fill="#f6b191" fill-opacity="0.8"/>
<ellipse cx="800" cy="545" rx="14" ry="5" fill="#f5aa89" fill-opacity="0.8"/>
</g>
<g filter="url(#w2)">
<path d="M613 1610 L609 1640 L604 1668" fill="none" stroke="#053061" stroke-width="8" stroke-opacity="0.95" stroke-linecap="round" stroke-linejoin="round"/>
<path d="M607 1702 L616 1727" fill="none" stroke="#053061" stroke-width="7" stroke-opacity="0.95" stroke-linecap="round" stroke-linejoin="round"/>
<path d="M520 372 L538 390 L520 418 L500 433" fill="none" stroke="#ddebf2" stroke-width="5" stroke-opacity="0.9" stroke-linecap="round" stroke-linejoin="round"/>
<path d="M476 474 L467 488" fill="none" stroke="#ddebf2" stroke-width="5" stroke-opacity="0.9" stroke-linecap="round" stroke-linejoin="round"/>
<path d="M400 542 L389 554" fill="none" stroke="#e1edf3" stroke-width="4" stroke-opacity="0.85" stroke-linecap="round" stroke-linejoin="round"/>
<ellipse cx="432.7" cy="450" rx="2.5" ry="6" fill="#e1edf3" fill-opacity="0.85"/>
<path d="M575 318 L586 310" fill="none" stroke="#e1edf3" stroke-width="4" stroke-opacity="0.85" stroke-linecap="round" stroke-linejoin="round"/>
</g>
<rect x="178" y="177.7" width="1673.5" height="2309.3" filter="url(#tex)" opacity="0.3" style="mix-blend-mode:soft-light"/>
</g>
<rect x="601" y="192" width="8" height="6" fill="#b2182b"/>
<rect x="628" y="196" width="6" height="4" fill="#b2182b"/>
<rect x="640" y="201" width="5" height="4" fill="#b2182b"/>
<rect x="700" y="196" width="4" height="3" fill="#b2182b"/>
<rect x="818" y="236" width="10" height="5" fill="#b2182b"/>
<rect x="806" y="232" width="5" height="4" fill="#b2182b"/>
<rect x="765" y="240" width="4" height="3" fill="#b2182b"/>
<rect x="888" y="205" width="4" height="4" fill="#b2182b"/>
<rect x="918" y="232" width="8" height="5" fill="#b2182b"/>
<rect x="925" y="240" width="8" height="6" fill="#b2182b"/>
<path d="M557.1 244.6 L560.4 258 L552.8 265.3 L546.1 274.6 L542.8 286.3 L546.1 294.6 L552.8 302.9 L561.1 309.6 L571.1 306.3 L576.1 297.9 L577.1 284.6 L572.8 272.9 L566.1 263 L562.4 256.3 L560.1 244.6 Z" fill="#fff" stroke="#000" stroke-width="2" stroke-linejoin="round"/>
<path d="M1241.2 1631.9 L1260 1634 L1255.8 1646.6 L1245.4 1657 L1237 1667.4 L1224.5 1675.8 L1211.9 1684.2 L1207.7 1680 L1216.1 1669.5 L1226.6 1659.1 L1234.9 1650.7 L1238 1640.3 Z" fill="#fff" stroke="#000" stroke-width="2" stroke-linejoin="round"/>
<path d="M1180.6 1700.9 L1188.9 1696.7 L1191 1688.3 L1194.2 1689.4 L1193.1 1700.9 L1188.9 1711.3 L1182.7 1711.3 Z" fill="#fff" stroke="#000" stroke-width="2" stroke-linejoin="round"/>
<path d="M629.8 2361.3 L649.8 2365.3 L663.1 2368.7 L659.8 2373.7 L643.2 2368.7 L629.8 2367 Z" fill="#fff" stroke="#000" stroke-width="2" stroke-linejoin="round"/>
<path d="M546.5 2392 L563.2 2380.3 L574.9 2378.7 L569.9 2388.6 L553.2 2397 Z" fill="#fff" stroke="#000" stroke-width="2" stroke-linejoin="round"/>
<path d="M581.5 2402 L586.5 2385.3 L596.5 2380.3 L594.8 2395.3 L588.2 2407 Z" fill="#fff" stroke="#000" stroke-width="2" stroke-linejoin="round"/>
<path d="M606.5 2402 L619.8 2395.3 L634.8 2397 L633.2 2405.3 L616.5 2410.3 Z" fill="#fff" stroke="#000" stroke-width="2" stroke-linejoin="round"/>
<path d="M178 282.9 L198 297.9 L214.6 309.6 L228 316.3 L249.6 311.3 L269.6 302.9 L291.3 291.3 L311.3 292.9 L334.6 299.6 L351.2 311.3 L364.6 324.6 L374.6 336.2 L380.6 344.6 L383.9 340.6 L379.6 324.6 L391.2 319.6 L407.9 301.3 L422.9 291.3 L426.2 264.6 L434.5 251.3 L449.5 241.3 L467.8 241.3 L474.5 233 L494.5 233 L514.5 224.6 L531.1 216.3 L542.8 203 L556.1 194.7 L571.1 203 L572.8 209.6 L561.1 218 L549.5 224.6 L554.5 231.3 L557.8 243 L564.4 243 L577.8 238 L591.1 233 L602.8 228 L604.4 211.3 L611.1 204.7 L617.8 211.3 L619.4 224.6 L637.7 226.3 L654.4 234.6 L666.1 243 L671.1 256.3 L684.4 259.6 L701 258 L724.4 261.3 L752 266.3 L772 272.9 L788.6 267.9 L802 259.6 L818.6 256.3 L838.6 253 L861.9 251.3 L883.6 253 L865.3 258 L855.3 261.3 L861.9 271.3 L871.9 276.3 L891.9 281.3 L905.2 289.6 L915.2 294.6 L925.2 306.3 L925.2 321.3 L938.6 324.6 L951.9 331.2 L968.5 339.6 L985.2 351.2 L996.9 362.9 L1005.2 374.6 L1018.5 387.9 L1035.2 401.2 L1045.2 411.2 L1065.2 414.5 L1085.1 412.9 L1098.5 416.2 L1121.8 416.2 L1148.4 417.9 L1168.4 424.5 L1185.1 432.9 L1208.4 447.8 L1228.4 462.8 L1240.1 472.8 L1245.1 481.2 L1246.7 497.8 L1251.7 514.5 L1258.4 537.8 L1271.7 547.8 L1285 554.5 L1286.7 571.1 L1281.7 587.8 L1281.4 600.4 L1292 600.4 L1304.4 613.1 L1325.3 620.4 L1335.7 620.3 L1335.7 629.6 L1350.3 631.9 L1369.3 632.9 L1392.6 639.6 L1409.3 646.3 L1425.9 652.9 L1442.6 657.9 L1452.6 656.3 L1459.3 664.6 L1465.9 676.3 L1485.9 684.6 L1505.9 691.2 L1525.9 699.6 L1542.5 702.9 L1555.9 704.6 L1572.5 709.6 L1592.5 707.9 L1612.5 706.2 L1625.8 711.2 L1639.2 719.6 L1662.5 741.2 L1692.5 764.5 L1709.1 774.5 L1725.8 779.5 L1745.8 782.9 L1762.4 782.9 L1772.4 791.2 L1782.4 807.8 L1787.4 827.8 L1790.7 857.8 L1785.7 894.5 L1780.7 907.8 L1765.8 924.4 L1745.8 951.1 L1725.8 971.1 L1705.8 999.4 L1692.5 1027.7 L1672.5 1057.7 L1654.1 1067.7 L1650.8 1087.7 L1647.5 1111 L1650.8 1131 L1654.1 1147.7 L1649.2 1164.3 L1645.8 1191 L1645.8 1211 L1635.8 1224.3 L1627.5 1235.9 L1625.8 1255.9 L1626.4 1260 L1619.7 1273.3 L1606.4 1293.3 L1593.1 1309.9 L1584.7 1326.6 L1583.1 1346.6 L1566.4 1358.2 L1553.1 1369.9 L1546.4 1381.6 L1516.4 1384.9 L1476.5 1386.6 L1459.8 1393.2 L1446.5 1403.2 L1433.1 1413.2 L1413.2 1416.5 L1396.5 1421.5 L1383.2 1429.9 L1366.5 1439.9 L1353.2 1451.5 L1344.9 1463.2 L1333.2 1479.8 L1329.9 1493.2 L1328.2 1506.5 L1329.9 1533.1 L1326.5 1559.8 L1321.5 1569.8 L1306.5 1578.1 L1296.6 1588.1 L1286.6 1599.8 L1278.2 1614.8 L1269.9 1629.8 L1256.6 1649.7 L1243.3 1666.4 L1226.6 1679.7 L1209.9 1691.4 L1199.9 1706.4 L1189.9 1721.4 L1176.6 1736.4 L1165 1749.7 L1156.6 1763 L1140 1773 L1126.7 1779.7 L1113.3 1783 L1100 1779.7 L1083.1 1778.3 L1053.1 1775 L1039.8 1766.6 L1026.4 1756.6 L1009.8 1750 L1003.1 1756.6 L1023.1 1775 L1036.4 1788.3 L1043.1 1798.3 L1036.4 1809.9 L1039.8 1821.6 L1056.4 1829.9 L1059.1 1844.9 L1049.8 1859.9 L1033.1 1879.9 L1026.4 1891.6 L1006.5 1899.9 L979.8 1908.2 L953.2 1913.2 L923.2 1916.5 L886.5 1918.2 L878.2 1913.2 L868.2 1911.5 L869.9 1919.9 L876.5 1933.2 L869.9 1946.5 L863.2 1966.5 L869.9 1976.5 L866.5 1983.2 L846.5 1988.2 L819.9 1989.2 L799.9 1984.8 L784.9 1976.5 L774.9 1981.5 L776.6 1999.8 L778.3 2019.8 L793.2 2026.5 L809.9 2024.8 L821.6 2021.5 L826.6 2036.5 L823.2 2046.5 L806.6 2046.5 L803.2 2051.5 L786.6 2058.1 L773.3 2069.8 L768.3 2083.1 L771.6 2099.8 L758.3 2108.1 L756.6 2118.1 L733.3 2120.4 L713.3 2128.1 L698.3 2144.7 L693.3 2161.4 L703.3 2174.7 L723.3 2186.4 L746.6 2189.7 L754.9 2198.1 L751.6 2214.7 L743.3 2226.4 L723.3 2238 L706.6 2249.7 L691.6 2266.3 L686.6 2283 L670 2291.3 L653.3 2296.3 L640 2309.7 L638.2 2322 L644.8 2335.3 L649.8 2348.7 L658.1 2358.7 L664.8 2365.3 L669.8 2382 L673.1 2392 L689.8 2405.3 L706.5 2422 L729.8 2438.6 L756.4 2450.3 L774.7 2451.9 L769.8 2460.3 L729.8 2465.3 L696.5 2468.6 L679.8 2485.3 L646.5 2485.3 L616.5 2480.3 L589.9 2471.9 L563.2 2461.9 L536.5 2448.6 L516.6 2435.3 L496.6 2422 L486.6 2402 L469.9 2392 L453.3 2378.7 L456.6 2368.7 L443.3 2355.3 L436.6 2335.3 L429.9 2318.7 L428.3 2295.4 L423.3 2268.7 L423.3 2242.1 L426.6 2222.1 L439.9 2208.8 L459.9 2202.1 L463.3 2185.4 L456.6 2173.8 L439.9 2178.8 L419.9 2182.1 L423.3 2172.1 L443.3 2158.8 L446.6 2145.5 L459.9 2128.8 L456.6 2108.8 L463.3 2088.8 L476.6 2078.8 L503.2 2082.2 L509.9 2068.8 L513.2 2052.2 L516.6 2028.9 L529.9 2008.9 L511.6 2002.2 L496.6 2012.2 L486.6 2002.2 L479.9 1985.5 L484.9 1968.9 L489.9 1948.9 L503.2 1925.6 L496.6 1898.9 L489.9 1875.6 L491.6 1857.3 L509.9 1842.3 L514.9 1825.6 L523.2 1805.6 L533.2 1789 L543.2 1769 L543.2 1759.7 L553.2 1743.1 L554.9 1729.8 L559.9 1716.4 L563.2 1696.4 L559.9 1673.1 L554.9 1649.8 L556.6 1629.8 L564.9 1623.2 L566.6 1599.8 L561.6 1579.8 L569.9 1569.8 L576.1 1559.6 L581.1 1542.9 L582.8 1526.3 L591.1 1509.6 L589.4 1493 L591.1 1476.3 L596.1 1459.7 L594.4 1446.3 L594.4 1426.3 L596.1 1406.4 L591.1 1399.7 L594.4 1386.4 L602.8 1376.4 L604.4 1356.4 L609.4 1333.1 L606.1 1313.1 L606.1 1293.1 L604.4 1266.4 L601.1 1246.4 L600.4 1226.5 L594.4 1221.5 L581.1 1211.5 L567.8 1203.1 L561.1 1191.5 L544.5 1181.5 L527.8 1171.5 L511.1 1166.5 L494.5 1159.8 L477.8 1149.8 L461.2 1141.5 L444.5 1129.8 L434.5 1119.9 L421.2 1108.2 L407.9 1093.2 L399.5 1076.5 L402.9 1063.2 L394.5 1049.9 L384.5 1033.2 L371.2 1009.9 L357.9 991.6 L352.9 978.3 L342.9 959.9 L334.6 940 L324.6 920 L314.6 896.6 L301.3 875 L289.6 860 L277.9 849.3 L266.3 836 L249.6 827.6 L239.6 817.6 L244.6 804.3 L238 794.3 L236.3 777.7 L231.3 764.3 L236.3 752.7 L248 741 L258 731 L269.6 724.4 L281.3 717.7 L286.3 704.4 L284.6 681 L277.9 697.7 L269.6 707.7 L261.3 702.7 L253 692.7 L243 686 L249.6 681 L249.6 664.4 L246.3 649.4 L256.3 644.4 L261.3 634.4 L267.9 617.8 L274.6 604.4 L274.6 586.1 L291.3 577.8 L311.3 572.8 L314.6 566.1 L309.6 557.8 L321.3 552.8 L321.3 542.8 L326.2 531.1 L337.9 527.8 L351.2 521.1 L357.9 507.8 L366.2 494.5 L372.9 481.2 L364.6 467.8 L366.2 444.5 L362.9 426.2 L367.9 421.2 L364.6 411.2 L366.2 394.5 L359.6 386.2 L354.6 374.6 L347.9 364.6 L337.9 354.6 L329.6 341.2 L317.9 324.6 L306.3 312.9 L294.6 312.9 L284.6 321.3 L274.6 332.9 L263 341.2 L266.3 351.2 L276.3 361.2 L264.6 369.6 L249.6 371.2 L244.6 361.2 L226.3 359.6 L223 344.6 L211.3 334.6 L194.7 331.2 L178 332.9 Z M906.5 2326.3 L923.2 2323 L939.8 2326.3 L956.5 2322.3 L973.1 2326.3 L993.1 2323 L1019.8 2329 L1021.5 2339.6 L1006.5 2348 L989.8 2353 L976.5 2363 L956.5 2366.3 L953.2 2358 L939.8 2354.6 L926.5 2363 L909.8 2354.6 L916.5 2343 L903.2 2338 Z M557.1 244.6 L560.4 258 L552.8 265.3 L546.1 274.6 L542.8 286.3 L546.1 294.6 L552.8 302.9 L561.1 309.6 L571.1 306.3 L576.1 297.9 L577.1 284.6 L572.8 272.9 L566.1 263 L562.4 256.3 L560.1 244.6 Z M476.6 2013.9 L496.6 2011.5 L498.2 2035.5 L493.2 2052.2 L486.6 2065.5 L466.6 2062.2 L469.3 2048.8 L471.6 2035.5 Z" fill="none" stroke="#000" stroke-width="2.4" stroke-linejoin="round"/>
<path d="M478.7 2290.7 L472.3 2290.4 L470.2 2286.9 L468.3 2282.7 L475.5 2282.8 L479.6 2286.9Z M487.6 2087.9 L489.9 2089.4 L491.7 2091.2 L493.7 2094.1 L491.4 2094.5 L488.5 2093.6 L485.0 2090.8 L486.7 2089.1Z M492.2 2393.1 L488.8 2387.6 L489.6 2380.9 L496.3 2382.5 L495.3 2388.4Z M498.1 2113.3 L499.1 2115.0 L500.5 2117.8 L497.7 2116.5 L495.4 2115.5 L494.0 2113.1 L494.8 2112.0 L495.9 2110.8Z M455.5 2342.2 L456.6 2340.7 L458.2 2339.1 L460.0 2339.4 L461.1 2339.5 L462.3 2340.2 L459.8 2341.5 L457.6 2342.2Z M591.6 2420.4 L587.3 2417.7 L586.8 2413.5 L591.3 2411.9 L593.9 2417.1Z M578.9 2429.0 L580.9 2428.7 L582.5 2429.4 L581.5 2432.8 L579.3 2434.7 L578.4 2432.4Z M543.1 2446.4 L541.3 2451.2 L535.9 2451.3 L534.9 2446.8 L536.1 2443.4 L541.2 2440.9Z M432.7 2323.2 L429.9 2322.8 L430.2 2320.6 L434.2 2320.2 L435.7 2322.4Z M611.1 2449.2 L609.1 2452.0 L608.0 2447.2 L608.8 2443.1 L609.8 2440.5 L611.3 2440.6 L612.4 2443.3 L612.6 2447.4Z M555.4 2439.7 L559.5 2442.8 L559.6 2445.4 L556.9 2446.7 L553.5 2443.5 L552.1 2440.6Z M478.8 2258.6 L475.5 2258.2 L473.2 2254.4 L475.6 2247.3 L481.0 2246.7 L482.5 2253.5Z M471.7 2264.2 L469.3 2266.4 L466.8 2264.3 L467.3 2259.8 L469.7 2258.7 L472.2 2259.7Z M458.2 2298.6 L454.7 2300.2 L451.5 2298.9 L447.9 2296.4 L448.4 2291.8 L453.3 2292.7 L456.7 2294.7Z M519.9 2359.6 L524.4 2362.5 L520.1 2366.9 L515.6 2365.0 L512.9 2362.1 L515.6 2357.9Z M572.0 2432.9 L576.0 2429.3 L582.1 2431.7 L585.7 2436.8 L582.2 2440.0 L578.1 2443.3 L571.9 2439.0Z M519.5 2108.6 L521.1 2111.3 L524.1 2113.4 L520.5 2114.6 L517.8 2115.2 L513.9 2114.5 L515.1 2111.9 L516.5 2110.4Z M560.2 2374.7 L559.4 2372.1 L561.4 2368.8 L566.2 2369.0 L571.5 2369.9 L571.4 2374.0 L567.4 2377.0 L561.7 2378.8Z M525.1 2420.1 L527.8 2415.4 L530.5 2418.5 L529.5 2424.4 L527.2 2426.8 L524.5 2426.2Z M453.0 2142.4 L455.9 2146.6 L452.5 2150.2 L448.7 2153.3 L442.4 2152.8 L439.4 2146.6 L443.8 2141.7 L448.8 2140.5Z M474.6 2324.8 L479.1 2327.0 L481.3 2331.9 L477.2 2338.1 L471.2 2333.8 L468.8 2327.6Z M479.2 2162.4 L484.7 2162.8 L487.2 2165.6 L486.8 2171.0 L481.4 2170.3 L476.2 2168.3Z M487.6 2370.0 L491.0 2372.5 L491.8 2376.7 L487.2 2378.4 L486.2 2374.1Z M477.2 2126.0 L476.4 2129.6 L472.9 2127.7 L471.3 2124.6 L474.2 2122.9 L477.3 2123.3Z M480.0 2262.7 L477.4 2266.0 L473.9 2266.7 L469.0 2268.1 L465.3 2264.0 L465.9 2259.3 L470.7 2256.9 L476.0 2259.3Z M474.8 2315.0 L477.9 2312.1 L477.8 2314.8 L477.3 2316.9 L474.9 2319.4 L472.9 2319.2 L472.7 2317.3Z M473.6 2160.5 L476.5 2160.8 L474.9 2162.7 L473.7 2163.9 L470.5 2165.3 L470.2 2163.7 L471.2 2162.4Z M445.4 2290.6 L440.9 2291.7 L438.5 2287.3 L442.8 2284.8 L447.2 2284.9 L447.6 2288.4Z M475.1 2230.9 L476.2 2228.9 L477.9 2228.3 L477.9 2231.1 L477.9 2233.3 L476.4 2234.7 L475.1 2233.3Z M607.7 2463.0 L610.6 2466.5 L608.4 2470.4 L604.2 2471.1 L602.3 2467.6 L603.5 2464.0Z M510.2 2405.1 L507.1 2405.2 L506.0 2402.3 L508.9 2401.2 L511.1 2399.0 L512.8 2401.6 L514.6 2403.6 L512.0 2404.7Z M465.8 2223.7 L467.4 2223.6 L467.4 2226.1 L467.1 2229.0 L465.2 2230.5 L463.8 2229.3 L464.1 2226.8 L464.8 2225.2Z M496.6 2353.4 L502.6 2353.7 L503.8 2360.0 L498.9 2363.4 L495.0 2359.0 L494.2 2355.8Z M444.1 2349.3 L447.1 2350.5 L450.9 2352.4 L451.4 2357.5 L448.3 2358.4 L444.6 2357.4 L442.2 2352.3Z M463.4 2136.8 L469.0 2135.4 L471.3 2140.3 L468.4 2145.2 L463.2 2146.4 L458.4 2144.6 L458.9 2139.4Z M576.3 2412.4 L576.9 2408.6 L580.8 2405.2 L581.9 2409.3 L578.4 2413.5Z M465.5 2229.2 L462.4 2232.0 L459.0 2227.4 L459.3 2222.2 L460.7 2218.2 L464.6 2217.6 L465.9 2224.1Z M447.6 2266.2 L444.0 2262.4 L443.6 2258.3 L451.5 2262.6 L453.9 2267.3Z M451.2 2209.0 L449.9 2206.7 L450.2 2203.8 L452.8 2204.3 L454.2 2206.0 L453.4 2208.1Z M467.2 2273.1 L466.1 2282.1 L457.7 2284.8 L453.0 2276.4 L458.7 2269.2Z M670.2 2465.7 L669.6 2469.9 L667.9 2474.6 L662.2 2474.3 L661.5 2468.3 L663.4 2464.8 L666.6 2463.8Z M512.5 2123.2 L513.6 2128.6 L507.5 2129.7 L503.7 2127.3 L503.1 2123.1 L507.7 2120.2Z M677.4 2462.9 L674.6 2465.6 L671.0 2465.8 L669.7 2461.2 L667.0 2456.9 L670.1 2455.0 L672.8 2455.9 L674.6 2458.4Z M640.3 2479.5 L634.4 2478.8 L633.6 2475.8 L639.5 2473.3 L644.2 2473.0 L647.4 2474.1 L647.0 2477.1Z M537.3 2389.4 L539.0 2391.7 L539.9 2394.9 L536.6 2394.6 L533.3 2394.1 L533.8 2390.2Z M498.7 2370.2 L497.0 2371.8 L496.0 2371.5 L495.3 2371.2 L495.8 2370.0 L497.0 2368.2 L498.9 2367.4 L499.2 2368.6Z M430.0 2243.4 L433.5 2241.3 L435.2 2244.3 L435.6 2247.0 L434.5 2249.7 L431.8 2252.0 L429.9 2248.7Z M453.4 2260.6 L450.6 2254.5 L455.0 2251.6 L458.6 2255.4 L462.0 2258.5 L460.3 2263.1 L457.8 2266.0 L453.9 2265.6Z M489.5 2157.9 L491.8 2154.5 L494.7 2155.3 L495.8 2159.5 L496.4 2164.8 L493.4 2164.6 L490.4 2163.8Z M471.4 2155.9 L472.5 2156.5 L473.9 2157.5 L473.7 2158.3 L473.9 2159.8 L471.9 2158.5 L470.6 2157.1 L470.0 2155.7Z M529.5 2358.9 L536.1 2359.0 L541.1 2363.5 L535.4 2366.9 L529.3 2367.7 L525.2 2363.1Z M635.2 2443.3 L637.4 2447.2 L634.4 2452.1 L630.3 2451.3 L627.7 2447.6 L629.9 2442.6 L633.0 2442.5Z M456.3 2272.7 L458.7 2270.4 L462.1 2267.2 L463.5 2271.9 L465.6 2276.0 L461.3 2277.7 L457.5 2276.5Z M671.3 2490.3 L667.2 2483.9 L666.2 2477.9 L672.1 2474.3 L676.0 2480.3 L677.1 2486.3Z M511.6 2351.1 L510.7 2354.8 L507.0 2355.3 L502.9 2356.2 L503.3 2352.2 L504.0 2348.6 L507.8 2346.8 L510.5 2348.4Z M451.3 2225.3 L445.0 2223.7 L444.7 2219.3 L446.5 2216.0 L451.3 2214.1 L457.8 2214.7 L458.5 2219.1 L456.4 2222.7Z M538.5 2445.9 L540.6 2443.0 L544.5 2444.0 L544.6 2449.9 L540.1 2451.0Z M466.5 2345.2 L464.4 2344.1 L468.1 2339.5 L470.5 2341.1 L470.0 2343.5Z M555.2 2463.9 L554.9 2460.6 L554.4 2458.2 L557.5 2453.9 L564.3 2452.3 L563.8 2456.4 L565.9 2458.8 L561.2 2462.6Z M514.3 2408.9 L515.6 2415.8 L508.6 2417.3 L503.9 2414.3 L501.2 2410.6 L503.0 2406.5 L508.6 2404.3Z M478.9 2154.7 L476.1 2155.9 L475.0 2154.2 L475.0 2152.0 L476.5 2148.6 L479.0 2148.9 L479.2 2151.5Z M430.8 2321.8 L433.8 2320.5 L436.1 2320.4 L439.4 2321.6 L437.9 2323.8 L437.0 2326.4 L434.2 2324.1Z M639.0 2449.7 L637.2 2452.5 L634.9 2452.6 L632.3 2451.5 L633.4 2447.9 L633.7 2444.5 L636.0 2445.6 L638.1 2446.2Z M485.7 2253.2 L491.1 2254.2 L492.2 2257.8 L489.9 2263.7 L484.8 2260.8 L481.9 2257.9Z M472.8 2334.2 L475.1 2339.9 L474.1 2344.7 L471.2 2343.9 L469.0 2338.0 L470.2 2334.0Z M459.7 2385.0 L456.7 2382.8 L458.5 2377.2 L463.1 2376.3 L464.1 2384.1Z M500.4 2122.4 L505.0 2118.0 L509.6 2122.6 L508.4 2127.7 L508.0 2132.1 L503.4 2134.6 L500.6 2129.9 L498.3 2126.3Z M617.0 2427.2 L618.5 2430.7 L613.3 2433.1 L609.3 2433.1 L609.6 2429.9 L612.9 2426.4Z M470.7 2161.7 L469.3 2163.5 L468.0 2165.0 L466.3 2164.0 L465.8 2161.5 L467.0 2159.9 L468.1 2158.7 L470.3 2158.4Z M481.3 2120.7 L482.4 2118.8 L484.9 2118.7 L485.1 2120.2 L484.4 2122.0 L482.0 2122.5 L480.8 2121.9Z M478.0 2241.6 L481.7 2242.6 L485.4 2246.8 L483.2 2251.0 L478.6 2249.3 L476.4 2245.0Z M459.0 2289.7 L458.4 2287.2 L461.0 2285.8 L464.4 2289.7 L463.0 2293.0Z M608.7 2454.0 L606.6 2456.2 L604.6 2454.0 L603.2 2451.9 L605.0 2449.6 L607.4 2450.3 L609.6 2451.5Z M501.6 2145.4 L498.8 2147.8 L495.9 2147.6 L495.6 2144.3 L497.9 2141.2 L500.4 2140.1 L503.5 2139.1 L502.7 2142.5Z M529.0 2422.3 L529.8 2423.7 L527.8 2424.5 L524.2 2424.8 L521.4 2423.1 L523.0 2421.5 L526.4 2421.4Z M480.7 2108.4 L482.5 2108.4 L484.9 2108.8 L484.8 2109.9 L484.7 2110.9 L482.4 2110.8 L480.9 2109.9 L479.9 2109.0Z M488.4 2171.0 L490.8 2167.7 L491.8 2164.1 L496.5 2163.2 L499.0 2165.7 L499.1 2169.2 L495.1 2171.0 L492.3 2171.1Z M480.9 2241.7 L479.0 2243.0 L478.4 2240.9 L479.5 2238.3 L481.4 2236.3 L482.0 2238.7Z M484.5 2184.1 L483.2 2179.8 L486.4 2176.1 L490.3 2177.6 L493.0 2180.5 L489.4 2183.4Z M534.8 2380.3 L531.5 2383.4 L527.4 2384.9 L526.4 2381.0 L529.8 2375.6 L534.3 2374.0 L536.1 2376.3Z M462.5 2227.7 L464.1 2234.4 L458.9 2239.6 L453.9 2235.2 L453.0 2230.4 L456.6 2227.3Z M437.9 2259.2 L436.0 2253.8 L439.8 2249.6 L444.4 2253.1 L446.6 2257.4 L446.7 2264.2 L440.8 2263.5Z M441.6 2161.5 L446.1 2158.4 L449.0 2158.0 L446.5 2161.7 L441.5 2165.3Z M429.6 2219.4 L434.2 2218.5 L436.1 2221.9 L432.2 2225.1 L426.3 2224.6Z M578.8 2463.3 L578.0 2461.6 L578.8 2459.1 L580.6 2460.0 L581.0 2462.1Z M526.8 2390.5 L525.3 2394.5 L521.3 2394.4 L518.5 2390.6 L521.5 2388.3 L524.6 2386.2Z M535.4 2369.2 L532.2 2367.2 L531.2 2363.7 L532.5 2361.4 L535.5 2365.8Z M436.0 2346.1 L436.7 2341.5 L440.2 2338.8 L444.0 2341.8 L445.2 2344.9 L443.9 2347.6 L440.5 2348.5Z M530.8 2365.6 L533.3 2363.7 L536.4 2363.7 L536.9 2365.3 L537.7 2367.0 L534.6 2368.2 L531.4 2367.9Z M441.0 2332.1 L438.6 2332.4 L435.8 2333.5 L434.7 2329.9 L436.0 2326.9 L438.0 2324.7 L440.3 2326.3 L441.4 2329.0Z M484.3 2320.0 L487.7 2321.1 L489.8 2325.4 L486.5 2327.6 L482.6 2323.0Z M491.1 2333.1 L489.3 2331.6 L492.2 2330.1 L494.3 2330.1 L497.0 2330.1 L496.4 2332.3 L494.7 2334.5 L491.6 2334.9Z M495.6 2408.3 L493.2 2409.6 L489.5 2408.2 L487.7 2403.0 L491.9 2403.7Z M492.0 2404.3 L491.3 2408.1 L487.6 2407.0 L484.2 2398.7 L488.7 2396.6Z M452.6 2153.7 L450.6 2152.5 L452.0 2150.8 L456.1 2150.4 L458.1 2151.7 L460.3 2152.8 L457.9 2154.1 L455.0 2153.9Z M475.6 2135.1 L472.6 2135.4 L469.7 2131.8 L469.6 2129.2 L470.4 2127.6 L472.7 2127.5 L476.7 2129.5 L478.8 2134.1Z M496.8 2133.6 L498.2 2131.1 L501.6 2130.8 L501.8 2134.3 L499.6 2136.6Z M500.8 2368.3 L499.7 2362.5 L501.8 2357.8 L504.8 2357.4 L508.3 2359.5 L505.6 2366.2Z M452.0 2351.1 L448.7 2347.2 L449.3 2343.1 L451.6 2340.5 L455.5 2344.7 L453.7 2348.2Z M512.8 2357.6 L506.4 2356.7 L503.3 2351.2 L506.1 2344.8 L511.6 2348.3 L515.0 2351.7Z M483.9 2231.3 L481.1 2232.3 L478.3 2231.9 L476.5 2229.8 L477.7 2227.4 L479.8 2225.5 L482.3 2227.0 L484.5 2228.6Z M452.2 2249.2 L449.5 2246.9 L451.1 2244.9 L457.3 2244.7 L457.8 2247.8Z M487.9 2317.1 L491.7 2316.1 L495.9 2319.3 L493.9 2321.5 L489.8 2320.6 L485.9 2318.6Z M462.9 2328.1 L466.0 2324.9 L475.2 2328.7 L475.5 2332.7 L470.9 2333.5Z M597.6 2422.3 L598.6 2421.1 L599.9 2420.2 L600.0 2422.6 L600.6 2424.7 L599.4 2425.9 L598.5 2425.2 L597.1 2424.8Z M513.6 2129.9 L511.1 2124.9 L513.2 2122.1 L516.0 2125.6 L516.8 2129.0Z M449.1 2356.9 L450.8 2353.9 L454.4 2355.7 L454.8 2359.7 L453.0 2362.4 L449.7 2360.8Z M497.6 2399.5 L501.1 2397.7 L500.8 2402.0 L497.8 2405.0 L495.3 2405.7 L493.0 2404.6 L494.6 2400.3Z M547.6 2381.1 L548.1 2385.2 L546.6 2388.7 L543.0 2390.0 L540.9 2386.5 L538.9 2383.4 L540.9 2380.2 L544.2 2379.4Z M534.6 2364.3 L530.6 2365.4 L529.4 2358.4 L530.4 2352.5 L534.4 2357.9Z M429.9 2249.5 L432.7 2251.7 L435.7 2252.7 L434.5 2255.8 L433.6 2258.7 L431.0 2257.4 L429.0 2255.6 L429.3 2253.0Z M577.2 2417.4 L581.4 2418.0 L583.6 2420.7 L583.3 2425.1 L578.6 2425.3 L576.8 2421.7Z M530.9 2370.4 L527.5 2374.5 L523.3 2372.0 L522.3 2366.5 L527.7 2367.1Z M506.7 2421.5 L508.7 2421.3 L509.5 2424.0 L508.7 2426.0 L506.8 2424.8 L504.8 2423.9 L505.6 2422.1Z M479.5 2301.1 L473.9 2296.3 L474.4 2293.2 L479.0 2294.7 L483.8 2298.9Z M651.8 2479.9 L650.1 2479.9 L648.7 2478.5 L647.8 2476.5 L649.5 2475.8 L651.4 2476.6 L652.4 2478.4Z M565.2 2433.1 L563.9 2436.2 L560.6 2437.6 L559.1 2435.0 L561.3 2432.4 L563.4 2432.1Z M623.4 2466.6 L621.0 2468.7 L619.8 2464.8 L621.0 2460.5 L622.6 2459.3 L625.1 2457.3 L625.5 2462.5Z M479.0 2229.5 L476.5 2231.7 L471.6 2229.9 L472.6 2225.8 L476.8 2223.9 L481.1 2226.6Z M519.9 2359.1 L522.6 2365.8 L517.5 2371.8 L509.7 2369.8 L507.3 2362.5 L512.1 2355.4Z M448.5 2298.3 L442.4 2290.0 L443.8 2285.3 L448.6 2286.8 L452.8 2293.8Z M480.1 2241.7 L479.4 2239.6 L479.7 2237.8 L482.8 2237.3 L485.0 2238.6 L486.2 2240.5 L483.5 2241.6Z M469.8 2143.5 L467.7 2141.1 L467.7 2138.2 L469.8 2136.2 L472.7 2136.3 L473.5 2138.9 L474.2 2141.0 L472.3 2142.0Z M480.2 2095.4 L476.7 2094.5 L475.2 2089.8 L479.9 2090.0 L482.2 2093.1Z M666.7 2479.7 L670.9 2478.4 L675.3 2478.1 L676.4 2482.8 L674.3 2486.5 L670.6 2483.2Z M469.4 2109.4 L466.6 2108.6 L464.0 2108.8 L462.5 2106.1 L464.9 2104.5 L466.6 2104.0 L469.1 2103.9 L470.6 2106.5Z M623.5 2459.2 L627.7 2462.6 L626.5 2467.5 L622.6 2469.8 L619.5 2467.0 L617.7 2464.3 L618.9 2460.6Z M447.7 2346.2 L445.4 2345.4 L446.4 2343.0 L448.4 2342.8 L450.3 2342.9 L451.5 2345.0 L449.7 2346.7Z M464.4 2266.7 L467.2 2268.2 L470.3 2270.9 L466.2 2272.2 L462.9 2271.8 L459.7 2270.8 L456.5 2268.0 L460.2 2266.0Z M470.2 2082.0 L474.4 2082.0 L477.4 2085.4 L473.7 2087.9 L470.8 2086.5Z M590.7 2437.4 L594.3 2434.4 L597.0 2438.4 L599.2 2442.1 L595.7 2444.6 L591.9 2448.6 L589.2 2443.8 L589.2 2440.3Z M602.2 2474.5 L599.8 2475.2 L597.5 2474.4 L595.8 2473.5 L594.7 2471.8 L597.5 2471.6 L599.8 2471.5 L600.9 2472.9Z M463.5 2212.5 L460.8 2210.1 L459.6 2205.7 L463.9 2203.6 L467.3 2203.3 L470.6 2206.0 L467.2 2210.2Z M456.4 2276.9 L453.2 2277.5 L453.1 2269.3 L456.1 2264.3 L458.8 2270.7Z M514.8 2156.6 L509.9 2157.5 L505.0 2159.4 L501.4 2154.7 L502.6 2150.0 L508.1 2148.3 L512.9 2151.9Z M482.8 2340.6 L486.7 2339.8 L491.2 2345.4 L491.0 2351.2 L485.0 2348.2 L479.5 2343.4Z M480.0 2313.5 L482.2 2315.0 L479.9 2317.2 L476.3 2317.1 L475.0 2315.6 L473.9 2313.5 L477.5 2312.2Z M641.3 2453.4 L643.8 2452.2 L649.0 2451.7 L649.6 2455.2 L646.2 2456.8 L642.0 2458.8 L638.5 2455.8Z M584.6 2457.7 L585.0 2461.5 L581.8 2463.2 L579.7 2457.9 L582.6 2456.3Z M458.6 2246.4 L461.0 2249.7 L462.6 2254.0 L458.0 2255.5 L455.5 2253.9 L454.5 2250.0Z M557.2 2437.9 L553.5 2440.8 L550.9 2438.9 L549.3 2437.7 L549.9 2435.4 L552.0 2432.6 L555.5 2432.4 L558.5 2433.9Z M442.6 2320.5 L441.2 2317.7 L444.8 2314.6 L448.3 2312.6 L453.2 2312.2 L450.4 2317.1 L449.4 2321.8 L445.3 2320.8Z M577.3 2415.5 L576.8 2410.9 L579.5 2406.8 L584.2 2407.4 L589.3 2409.0 L588.5 2414.5 L584.9 2417.1 L581.3 2416.8Z M555.3 2453.7 L553.3 2446.9 L555.1 2442.9 L557.4 2441.9 L559.5 2447.5 L557.9 2451.5Z M467.0 2228.6 L466.9 2225.7 L468.4 2223.5 L470.8 2222.8 L472.1 2225.9 L471.6 2229.4 L469.0 2230.3Z M484.3 2088.4 L480.9 2093.4 L476.2 2094.9 L475.3 2084.5 L480.3 2083.7Z M486.5 2273.0 L484.5 2274.7 L481.8 2275.0 L479.4 2272.9 L479.9 2270.1 L481.0 2267.5 L484.4 2266.9 L486.9 2269.8Z M465.9 2320.7 L466.3 2315.3 L471.6 2315.2 L475.5 2315.6 L477.6 2319.1 L479.3 2323.7 L474.4 2323.5 L470.1 2324.9Z M586.9 2426.6 L588.8 2428.5 L588.6 2430.7 L585.9 2432.1 L585.5 2429.1Z M501.5 2081.8 L505.2 2082.4 L508.1 2083.8 L508.7 2085.7 L508.9 2088.1 L505.2 2087.9 L502.0 2086.1 L500.6 2083.8Z M637.8 2440.4 L640.2 2438.5 L641.2 2441.5 L638.7 2444.5 L635.5 2444.3Z M444.7 2281.9 L447.6 2280.6 L450.5 2281.4 L452.1 2283.3 L448.4 2284.5 L444.1 2284.4Z M447.1 2302.9 L453.1 2303.8 L459.0 2303.1 L459.4 2307.5 L459.0 2311.3 L454.3 2314.5 L448.3 2311.5 L444.7 2307.2Z M620.5 2458.1 L617.1 2456.1 L615.2 2453.3 L620.4 2451.9 L626.3 2452.1 L626.0 2456.1Z M459.4 2162.5 L458.5 2160.1 L461.0 2158.5 L463.3 2159.6 L463.4 2161.2 L462.1 2162.0Z M607.1 2428.1 L609.9 2428.2 L612.5 2428.1 L612.8 2431.4 L611.6 2433.5 L609.5 2433.3 L607.8 2431.6Z M461.1 2335.2 L461.8 2337.8 L457.7 2338.7 L454.3 2338.9 L452.3 2337.3 L451.3 2335.1 L453.7 2332.9 L458.4 2333.1Z M473.2 2084.0 L473.7 2079.1 L480.2 2080.7 L484.2 2082.9 L482.2 2086.0 L477.4 2087.0Z M524.2 2435.9 L519.4 2436.4 L519.2 2433.6 L522.9 2433.1 L525.4 2434.4Z M472.4 2125.2 L473.6 2122.3 L476.9 2120.7 L477.8 2123.8 L476.8 2125.8 L474.5 2127.0Z M642.4 2457.3 L644.6 2454.0 L647.2 2454.5 L647.7 2457.8 L644.8 2460.6 L642.8 2463.6 L641.4 2461.9 L641.0 2459.8Z M452.6 2254.6 L452.3 2248.5 L452.5 2244.2 L456.7 2241.4 L459.6 2244.9 L462.6 2249.0 L457.6 2251.1Z M473.2 2258.5 L479.4 2253.1 L479.5 2260.0 L475.7 2266.4 L471.2 2264.5Z M550.2 2376.2 L547.5 2370.9 L550.2 2367.3 L554.4 2366.2 L560.1 2368.5 L561.6 2374.1 L560.9 2379.4 L555.1 2376.7Z M541.8 2423.0 L539.1 2425.0 L535.9 2423.9 L533.8 2420.8 L537.5 2417.0 L543.1 2419.0Z M572.3 2429.7 L569.3 2426.9 L571.4 2421.7 L575.0 2424.9 L575.5 2429.0Z M659.9 2456.8 L656.5 2456.7 L654.0 2454.0 L656.3 2450.2 L658.6 2447.1 L661.3 2448.9 L661.4 2452.7Z M422.6 2270.7 L425.2 2270.2 L429.6 2271.9 L430.4 2274.4 L427.0 2274.2 L423.9 2272.9Z M559.5 2407.8 L558.4 2406.2 L557.8 2403.3 L561.3 2401.8 L565.4 2401.4 L567.2 2404.6 L564.5 2407.6 L561.6 2409.5Z M467.7 2341.3 L467.7 2343.2 L465.6 2344.1 L463.5 2344.4 L459.8 2344.5 L459.1 2342.5 L462.1 2341.8 L464.2 2340.5Z M480.6 2257.9 L483.8 2256.9 L485.0 2259.5 L480.2 2265.8 L478.4 2262.8Z M538.1 2399.9 L532.2 2400.4 L528.2 2394.8 L530.7 2388.1 L537.0 2388.8 L542.0 2387.8 L542.7 2392.9 L543.2 2398.3Z M508.9 2141.8 L513.6 2142.3 L513.4 2147.0 L510.7 2150.5 L507.2 2151.1 L504.2 2147.8Z M586.3 2426.8 L591.7 2430.2 L595.2 2432.9 L596.1 2438.0 L592.3 2442.3 L587.0 2440.7 L581.6 2438.1 L584.5 2432.9Z M502.1 2353.9 L503.3 2354.3 L503.9 2354.9 L502.9 2356.1 L501.7 2357.0 L500.0 2357.8 L499.0 2357.2 L500.9 2355.6Z M490.4 2387.6 L490.7 2384.9 L494.1 2385.8 L496.6 2389.1 L493.2 2389.2Z M424.2 2261.8 L426.0 2259.4 L429.1 2257.9 L432.0 2262.0 L431.1 2267.2 L427.6 2267.0 L424.8 2265.8Z M476.5 2331.0 L473.5 2333.4 L470.0 2332.6 L467.4 2330.0 L469.1 2326.6 L472.5 2326.8 L475.6 2327.6Z M464.6 2100.2 L461.9 2099.4 L460.0 2097.4 L461.2 2096.6 L462.6 2096.3 L464.8 2097.6 L465.8 2099.3Z M476.0 2219.1 L478.8 2216.5 L483.8 2216.5 L484.8 2221.1 L483.2 2223.6 L479.3 2222.9Z M459.2 2145.6 L457.8 2147.7 L453.9 2147.4 L452.5 2143.9 L456.3 2142.6Z M438.1 2233.8 L438.7 2237.9 L435.0 2239.0 L432.4 2236.5 L434.6 2233.4Z M645.8 2459.5 L648.0 2459.0 L649.4 2460.6 L649.5 2462.9 L648.0 2465.4 L645.6 2464.5 L643.0 2463.8 L642.9 2460.7Z M584.7 2472.2 L580.5 2469.8 L582.7 2464.5 L589.9 2465.7 L595.1 2467.5 L590.7 2471.5Z M449.9 2253.1 L443.2 2250.7 L442.1 2243.1 L447.3 2241.6 L450.5 2248.6Z M488.4 2373.2 L491.5 2373.1 L495.3 2376.0 L492.8 2379.6 L489.1 2379.2 L486.8 2376.1Z M433.4 2316.1 L432.7 2311.7 L435.8 2312.6 L440.0 2317.5 L437.4 2318.7Z M571.9 2415.9 L564.2 2420.2 L560.2 2411.8 L565.5 2407.0 L570.0 2409.2Z M578.7 2443.6 L580.4 2441.6 L583.1 2439.5 L584.8 2441.6 L586.0 2443.7 L584.2 2446.4 L580.8 2447.9 L579.2 2445.7Z M442.0 2257.5 L444.1 2255.2 L446.9 2256.9 L448.0 2260.1 L444.5 2261.0 L441.7 2260.3Z M682.9 2460.3 L675.4 2461.9 L672.5 2458.5 L677.8 2455.0 L684.7 2453.1 L685.2 2456.7Z M676.2 2478.5 L684.7 2480.4 L684.2 2485.1 L676.5 2484.3 L672.2 2479.9Z M455.0 2229.1 L453.9 2223.7 L454.5 2219.2 L458.5 2213.0 L462.0 2217.7 L465.2 2221.6 L460.0 2225.3Z M509.6 2359.9 L511.4 2353.1 L519.4 2347.8 L519.1 2353.8 L513.9 2360.6Z M420.6 2239.4 L423.7 2237.9 L427.6 2237.5 L428.2 2241.6 L425.2 2244.5 L422.3 2242.4Z M507.5 2147.1 L508.9 2149.7 L508.3 2152.4 L505.1 2152.0 L505.4 2149.1Z M552.2 2395.7 L551.3 2401.0 L546.3 2398.1 L543.4 2391.9 L547.7 2388.9 L553.0 2390.3Z M635.7 2483.6 L632.7 2485.3 L630.6 2483.4 L631.3 2481.2 L631.6 2477.8 L635.9 2477.8 L639.3 2479.1 L639.6 2482.3Z M444.4 2287.7 L446.1 2283.5 L449.7 2283.7 L451.9 2286.9 L448.8 2291.4Z M462.9 2312.3 L459.0 2308.7 L463.2 2305.4 L466.8 2305.5 L471.2 2305.3 L470.9 2309.8 L469.2 2312.8 L466.0 2314.1Z M605.7 2455.0 L601.5 2453.2 L599.9 2448.3 L601.8 2441.4 L606.1 2441.0 L610.3 2441.7 L609.4 2448.8Z M498.4 2342.7 L497.0 2344.0 L495.5 2345.2 L494.9 2344.5 L495.4 2343.0 L496.4 2341.6 L497.6 2341.2 L498.2 2341.6Z M435.6 2330.8 L433.1 2328.5 L431.2 2326.4 L435.3 2325.3 L440.1 2325.7 L443.9 2327.8 L440.0 2329.4Z M471.1 2249.9 L475.4 2250.3 L479.5 2251.4 L480.3 2256.0 L476.4 2258.8 L472.6 2256.7 L471.2 2253.9Z M441.7 2235.4 L431.1 2234.0 L429.2 2225.5 L438.0 2224.9 L446.7 2227.4Z M480.7 2222.6 L484.5 2221.8 L487.6 2223.1 L489.0 2227.1 L485.2 2227.2 L481.8 2226.8Z M566.8 2370.6 L566.4 2365.1 L569.2 2364.4 L572.0 2362.4 L573.3 2368.0 L572.1 2372.1 L570.7 2374.5 L567.4 2377.4Z M470.5 2380.4 L466.0 2379.1 L465.0 2370.1 L469.0 2367.1 L473.8 2368.4 L472.2 2375.9Z M500.9 2085.1 L503.3 2087.8 L502.4 2090.6 L500.5 2093.0 L498.1 2089.4 L498.0 2085.1Z M471.2 2277.2 L473.1 2273.4 L475.8 2276.2 L477.2 2280.8 L476.1 2286.3 L471.8 2284.6Z M505.8 2151.3 L509.6 2155.1 L509.3 2159.5 L504.3 2161.8 L498.9 2160.6 L497.6 2156.8 L498.4 2151.9Z M483.1 2109.8 L485.6 2112.9 L484.1 2116.4 L480.9 2118.3 L478.3 2115.8 L475.9 2113.9 L476.4 2110.5 L479.9 2110.4Z M438.5 2263.1 L437.4 2259.1 L441.7 2257.2 L445.7 2256.0 L447.4 2258.8 L448.8 2262.8 L443.3 2263.1Z M481.0 2214.6 L484.4 2212.7 L486.3 2220.0 L485.5 2225.8 L481.5 2223.4 L479.3 2217.9Z M476.6 2156.7 L481.7 2161.4 L479.9 2167.3 L473.6 2165.0 L468.5 2162.2 L469.4 2157.3 L471.7 2153.3Z M494.8 2106.4 L492.3 2107.5 L490.0 2108.3 L487.5 2105.5 L489.4 2104.1 L491.9 2103.7Z M484.3 2172.2 L487.0 2166.9 L493.8 2170.5 L493.1 2175.9 L489.1 2175.9Z M487.6 2133.6 L485.1 2131.2 L486.6 2126.7 L489.9 2123.9 L489.6 2129.4Z M488.0 2191.6 L485.8 2194.6 L483.0 2195.4 L482.8 2192.7 L485.4 2189.9 L487.1 2190.1Z M505.6 2385.8 L507.9 2384.6 L509.2 2387.5 L509.3 2391.8 L507.2 2392.4 L505.6 2390.5Z M491.1 2384.3 L492.3 2390.2 L488.8 2394.0 L485.7 2398.8 L481.0 2396.6 L480.5 2390.4 L480.8 2383.3 L486.4 2382.9Z M465.9 2288.2 L466.3 2285.8 L469.8 2284.4 L471.8 2284.9 L471.3 2287.6 L467.4 2289.4Z M630.9 2473.8 L633.5 2468.9 L639.1 2467.4 L645.1 2470.6 L644.5 2476.9 L639.4 2479.3 L632.5 2480.4Z M571.0 2430.5 L572.2 2429.7 L574.4 2430.8 L575.4 2432.6 L573.5 2432.9 L571.1 2432.1Z M557.8 2400.7 L555.7 2406.3 L549.2 2410.3 L546.9 2403.9 L548.2 2396.3 L555.4 2395.8Z M491.5 2141.2 L489.1 2141.8 L486.9 2141.5 L485.0 2140.8 L484.3 2139.6 L486.3 2138.8 L488.7 2140.1Z M601.8 2422.9 L602.8 2428.1 L601.3 2432.8 L597.4 2426.7 L598.4 2422.5Z M559.6 2408.8 L555.4 2407.4 L555.0 2404.5 L557.5 2403.4 L561.0 2406.7Z M474.3 2112.3 L478.6 2115.4 L471.2 2116.5 L465.9 2113.3 L469.3 2111.0Z M552.0 2423.7 L554.9 2427.5 L551.6 2432.0 L547.3 2435.4 L546.5 2430.9 L547.8 2427.5Z M646.1 2462.9 L638.7 2465.3 L632.8 2472.9 M463.5 2376.4 L468.4 2381.7 L475.0 2389.3 L480.2 2396.1 M524.0 2369.1 L517.6 2372.2 L509.6 2370.0 L504.7 2366.3 L500.9 2361.9 M483.8 2130.6 L488.5 2136.5 L498.6 2137.7 L503.6 2139.7 L507.3 2143.7 M487.0 2395.3 L487.2 2390.2 L488.3 2384.0 M549.4 2416.1 L538.6 2416.8 L529.4 2413.2 M451.3 2347.5 L455.6 2354.3 L463.8 2362.1 L474.8 2364.8 L479.9 2361.7 M441.5 2312.4 L451.9 2310.2 L463.6 2312.0 M670.0 2474.2 L676.3 2467.0 L678.4 2455.6 L677.7 2446.1 M484.8 2214.2 L486.0 2208.3 L485.0 2203.0 L484.4 2193.9 L486.5 2186.3 M578.6 2433.9 L578.8 2439.3 L574.9 2445.8 L568.8 2456.1 M460.3 2322.0 L459.8 2330.3 L461.4 2339.2 L465.9 2344.2 L471.0 2345.4 M533.3 2445.5 L524.3 2441.7 L520.5 2432.3 L520.2 2425.9 L518.9 2418.2 M490.5 2201.9 L491.7 2207.5 L489.7 2214.7 M672.9 2457.0 L668.6 2460.0 L661.8 2463.8 L653.1 2471.6 L645.3 2478.8 M511.7 2103.6 L515.0 2099.1 L518.7 2089.8 L522.3 2080.6 L525.7 2076.1 M506.4 2152.9 L506.1 2162.6 L501.3 2173.0 M607.3 2453.6 L600.7 2458.8 L595.0 2467.6 L590.2 2474.9 L588.3 2479.7 M465.6 2109.0 L473.7 2112.3 L480.3 2118.7 L485.0 2122.8 M503.6 2124.7 L502.3 2118.1 L497.3 2109.1 L491.6 2103.1 M523.2 2364.0 L514.0 2371.0 L505.8 2376.4 L503.0 2383.9 M489.5 2369.7 L487.2 2379.8 L487.6 2388.4 L487.9 2398.6 M527.3 2385.7 L520.8 2388.2 L511.1 2390.9 L502.9 2388.3 L498.4 2385.1 M603.5 2456.7 L598.6 2454.7 L594.8 2448.6 L595.7 2440.1 M470.4 2164.5 L465.9 2168.8 L465.3 2178.3 L463.1 2184.7 M507.5 2107.2 L508.5 2101.8 L506.2 2095.1 L497.6 2090.4 L487.4 2090.5 M493.8 2391.3 L499.3 2388.0 L504.3 2387.4 L510.0 2382.9 M467.2 2377.2 L463.5 2369.9 L457.3 2367.0 L446.8 2368.9 M577.7 2423.3 L570.2 2419.9 L561.3 2416.7 L555.0 2410.2 M517.9 2090.4 L515.5 2081.1 L519.3 2073.3 L519.4 2061.4 L523.4 2050.4 M656.2 2473.6 L662.7 2470.4 L666.9 2460.8 L674.8 2453.3 M504.4 2413.7 L508.4 2420.7 L516.2 2426.1 M458.4 2304.8 L449.5 2302.8 L443.5 2299.4 L438.2 2295.1 M672.5 2479.7 L668.7 2473.2 L658.1 2468.0 L654.0 2459.2 M568.3 2423.0 L563.3 2424.8 L556.9 2433.9 L555.5 2438.8 M515.7 2354.4 L521.0 2360.7 L529.9 2363.9 M503.0 2128.6 L510.1 2134.1 L516.0 2135.0 M445.6 2254.5 L450.3 2263.6 L455.4 2266.3 L458.0 2272.3 L460.3 2281.1 M461.7 2361.6 L454.9 2369.2 L454.2 2378.6 L459.7 2385.9 L464.8 2391.6 M462.8 2377.0 L462.0 2385.5 L461.0 2391.9 L459.0 2398.8 M470.5 2197.1 L466.4 2190.2 L463.8 2178.8 M614.9 2474.7 L618.6 2466.2 L623.7 2458.9 L624.9 2452.3 L622.4 2447.5 M662.8 2468.6 L665.0 2473.2 L669.5 2479.2 L673.9 2482.4 L678.9 2483.5 M519.5 2379.7 L512.2 2383.1 L508.5 2386.7 M553.8 2402.6 L560.0 2410.6 L563.5 2420.2 L564.0 2431.6 L562.9 2441.2 M475.2 2282.5 L473.8 2290.8 L474.5 2297.0 L471.5 2305.0 L466.6 2310.6 M544.4 2415.4 L550.6 2425.6 L550.2 2433.7 L545.1 2441.9 L534.8 2448.0 M555.9 2440.4 L559.9 2431.7 L563.1 2427.2 L562.6 2421.3 L556.3 2415.7 M465.1 2149.5 L458.3 2150.7 L448.1 2152.2 L437.7 2157.5 L431.0 2164.6 M439.7 2235.9 L434.0 2242.3 L426.5 2242.9 M569.4 2408.4 L577.8 2414.0 L585.8 2416.8 L588.5 2421.5 L597.4 2424.9 M474.8 2265.8 L474.0 2257.1 L474.4 2251.5 L472.4 2241.9 L474.4 2236.9 M454.6 2171.6 L445.0 2168.9 L436.2 2172.1 M458.4 2294.4 L461.4 2302.6 L465.9 2312.5 L471.7 2321.1 M431.2 2220.8 L420.7 2223.0 L411.9 2225.3 L405.7 2230.1 L400.3 2231.7 M477.4 2313.1 L484.1 2320.3 L486.0 2326.0 M439.5 2325.9 L436.8 2331.8 L436.3 2343.8 L432.6 2353.2 M485.3 2098.6 L479.1 2099.1 L470.5 2097.9 L466.3 2100.8 M540.2 2403.7 L543.6 2414.2 L541.2 2421.7 L533.1 2426.4 M560.5 2414.3 L555.6 2424.3 L549.6 2430.6 L543.2 2432.9 M1350.1 629.1 L1352.2 633.9 L1354.8 630.0 L1356.9 633.9 L1359.4 630.4 L1361.6 634.9 L1364.1 629.9 L1366.2 634.8 L1368.8 630.9 L1370.2 635.7 L1373.7 631.5 L1374.6 636.5 L1377.9 633.1 L1379.0 637.2 L1382.1 634.6 L1383.0 639.2 L1386.7 634.6 L1387.5 639.3 L1390.7 637.2 L1391.7 641.0 L1394.8 639.1 L1395.8 642.8 L1399.1 640.5 L1399.7 645.1 L1403.5 641.6 L1403.8 647.0 L1407.8 642.8 L1408.5 647.3 L1411.9 645.1 L1412.6 649.4 L1416.3 646.3 L1416.8 651.1 L1420.1 649.1 L1421.0 653.1 L1424.4 650.8 L1425.1 653.9 L1429.3 653.1 L1427.7 658.1 L1432.7 656.6 L1431.3 661.4 L1435.7 660.5 L1434.3 665.3 L1436.6 664.0 L1441.2 663.8 L1439.0 658.7 L1443.5 660.4 L1445.0 656.2 L1448.0 659.4 L1449.2 653.8 L1450.9 656.9 L1454.5 657.0 L1452.7 661.3 L1457.2 660.6 L1456.4 664.1 L1460.5 664.1 L1459.1 667.7 L1462.6 668.3 L1460.3 672.4 L1465.5 672.0 M1351.1 633.2 L1353.0 635.3 L1355.4 632.8 L1357.2 635.5 L1359.5 633.8 L1361.4 636.0 L1363.7 633.8 L1365.6 636.9 L1367.9 634.4 L1369.7 637.4 L1372.5 634.5 L1373.9 637.4 L1376.7 635.8 L1378.0 639.1 L1381.0 636.9 L1382.3 640.1 L1385.0 639.0 L1386.4 642.0 L1389.5 639.6 L1390.6 642.7 L1393.4 641.0 L1394.3 644.4 L1397.0 643.0 L1398.2 645.5 L1400.9 644.3 L1401.8 647.5 L1404.8 645.5 L1405.8 648.6 L1408.7 646.6 L1409.4 650.6 L1412.5 648.3 L1413.3 651.8 L1416.3 649.7 L1416.9 653.8 L1419.8 652.1 L1420.7 655.2 L1423.8 653.1 L1424.6 656.4 M912.3 317.4 L909.1 314.9 L910.1 312.2 L912.8 311.2 L914.6 312.4 L915.1 315.5Z M909.5 294.9 L911.8 295.0 L912.5 297.8 L910.9 298.6 L908.6 297.6Z M914.5 323.1 L917.0 322.1 L918.7 323.4 L918.6 325.9 L916.8 326.2 L914.7 326.0Z M922.0 312.0 L925.3 315.8 L921.6 317.3 L918.5 315.2Z M919.1 294.9 L917.3 296.8 L916.3 295.1 L917.0 293.1Z M922.9 320.5 L924.2 318.9 L926.3 320.2 L926.8 322.0 L924.9 322.3 L923.3 322.4Z M921.0 300.7 L923.8 303.0 L922.7 305.2 L919.2 304.6 L919.1 302.7Z M914.4 316.0 L912.1 318.0 L908.7 317.0 L909.2 314.3 L910.4 311.6 L913.7 312.7Z M910.6 324.3 L908.9 327.2 L906.6 325.7 L907.3 323.1Z M927.3 307.3 L928.8 310.0 L925.6 312.4 L922.4 310.4 L922.4 307.2Z M919.2 322.7 L921.6 322.1 L922.5 324.2 L921.5 325.5 L920.1 326.0 L918.8 324.5Z M918.7 295.6 L920.5 297.1 L920.4 298.6 L918.9 299.7 L917.0 298.7 L917.1 296.7Z M920.6 301.9 L918.6 301.1 L918.2 299.4 L920.4 298.3 L921.7 300.2Z M923.8 324.5 L920.3 324.0 L921.1 320.6 L921.9 319.0 L924.8 318.6 L925.4 321.9Z M910.7 309.9 L910.0 307.2 L913.0 306.9 L915.1 308.6 L913.2 310.7Z M915.5 318.7 L913.0 316.5 L914.0 313.0 L917.5 315.0Z M907.8 314.3 L906.8 312.3 L908.9 311.5 L911.2 311.6 L911.9 313.7 L910.2 315.9Z M913.3 302.9 L916.3 303.3 L918.6 305.5 L917.3 307.9 L914.1 308.9 L911.7 306.2Z M912.5 305.5 L911.1 304.3 L911.9 302.2 L913.9 302.3 L914.7 303.8 L914.7 305.5Z M912.9 305.2 L913.5 302.8 L915.0 301.7 L916.1 303.6 L915.2 305.2Z M915.8 321.1 L916.8 319.9 L918.9 319.5 L919.5 322.3 L918.6 324.2 L915.7 323.8Z M915.1 304.5 L913.9 304.2 L914.2 302.4 L915.5 302.0 L916.5 302.7 L916.2 303.9Z M906.0 320.1 L907.5 318.2 L909.8 317.8 L910.9 319.8 L910.4 322.0 L907.3 321.8Z M914.6 301.4 L918.7 301.9 L919.6 305.0 L917.3 308.2 L913.4 305.4Z M905.7 321.9 L906.9 320.7 L908.3 321.1 L908.1 323.0 L906.7 323.4Z M913.6 322.0 L911.2 324.2 L909.3 322.8 L908.6 320.6 L910.6 320.3 L912.3 320.2Z M913.7 305.3 L913.6 302.7 L915.1 301.6 L917.5 302.2 L917.0 304.6 L916.1 306.3Z M913.3 318.1 L912.4 319.7 L910.5 319.9 L909.8 318.5 L911.4 317.1Z M925.6 302.4 L925.2 303.4 L923.5 303.6 L922.5 302.8 L923.3 300.8 L924.8 301.6Z M911.8 302.8 L909.2 305.3 L906.3 303.1 L906.2 300.5 L908.7 298.9 L911.7 299.8Z M914.7 305.1 L912.4 303.0 L914.9 300.0 L917.9 301.1 L918.0 302.9 L918.0 305.7Z M914.2 305.6 L917.6 304.1 L919.1 307.0 L917.3 310.2 L914.4 308.0Z M918.5 309.9 L916.0 309.9 L913.6 307.3 L916.5 305.1 L918.4 306.3Z M923.4 308.9 L923.4 310.6 L921.7 311.1 L920.8 309.6 L921.5 308.0Z M914.0 295.8 L913.2 296.9 L910.7 296.5 L910.2 294.5 L911.9 292.5 L914.5 293.7Z M351.0 339.0 L349.7 341.4 L346.3 342.0 L345.3 339.0 L346.2 336.4 L349.4 336.2Z M356.5 343.0 L355.3 344.8 L352.9 344.5 L351.3 343.0 L352.7 340.4 L355.3 341.4Z M218.0 378.0 L216.3 381.5 L213.1 380.3 L212.2 378.0 L213.2 375.8 L216.7 375.6Z M364.3 360.0 L362.7 361.6 L361.3 362.0 L359.7 360.0 L361.3 358.0 L362.8 358.2Z M900.7 214.0 L898.9 215.8 L896.7 215.7 L895.8 214.0 L896.9 212.3 L899.3 212.1Z M849.3 237.0 L847.7 239.9 L844.8 239.5 L843.2 237.0 L844.3 234.7 L847.5 235.1Z" fill="none" stroke="#000" stroke-width="1.9" stroke-linejoin="round"/>
<g fill="none" stroke="#000" stroke-width="2.3" stroke-linejoin="round" stroke-linecap="round">
<path d="M374.6 337.9 L369.6 346.2 L359.6 352.9 L351.2 364.6 M541.8 224 L524.5 244.6 L514.5 264.6 L507.8 287.9 L499.5 304.6 L514.5 301.3 L521.1 311.3 L527.8 331.2 L529.5 351.2 L537.8 367.9 L547.8 376.2 L577.8 377.9 L607.8 376.2 L621.1 394.5 L632.7 407.9 L651.1 406.2 L691 402.9 L697.7 407.9 L692.7 424.5 L686 441.2 L684.4 461.2 L689.4 477.8 L697.7 497.8 L691 511.1 L684.4 517.8 L697.7 531.1 L707.7 541.1 L711 554.5 L717.7 571.1 L737.7 586.1 L752 582.8 M711 554.5 L697.7 539.5 L684.4 547.8 L671.1 546.1 L669.4 552.8 L617.8 554.5 L617.8 576.1 L639.4 577.8 L641.1 591.1 L611.1 592.8 L611.1 614.4 L624.4 634.4 L631.1 644.4 L624.4 711 L614.4 757.7 M614.4 757.7 L604.4 751 L591.1 741 L611.1 704.4 L607.8 696 L591.1 687.7 L577.8 686 L564.4 691 L551.1 684.4 L537.8 691 L511.1 691 L504.5 674.4 L494.5 661.1 L484.5 644.4 L467.8 634.4 L461.2 617.8 L441.2 612.8 L426.2 607.8 M426.2 607.8 L411.2 601.1 L397.9 596.1 L384.5 602.8 L367.9 597.8 L357.9 587.8 L334.6 576.1 L314.6 564.4 M426.2 607.8 L426.2 616.1 L437.9 624.4 L434.5 644.4 L424.5 664.4 L407.9 684.4 L384.5 697.7 L351.2 707.7 L337.9 724.4 L329.6 744.3 L324.6 764.3 L311.3 777.7 L301.3 777.7 L294.6 764.3 L281.3 757.7 L267.9 751 L261.3 757.7 L266.3 737.7 L269.6 724.4 M614.4 757.7 L607.8 757.7 L591.1 764.3 L561.1 774.3 L537.8 787.7 L517.8 801 L511.1 817.6 L504.5 837.6 L497.8 851 L487.8 864.3 M487.8 864 L487.8 873.3 L494.5 886.7 L502.8 900 L511.1 913.3 L506.1 926.6 L531.1 930 L539.5 945 L567.8 946.6 L594.4 928.3 L592.8 946.6 L591.1 978.3 M591.1 978.3 L607.8 981.6 L627.7 979.9 L644.4 1006.6 L656.1 1031.6 L647.7 1041.6 L647.7 1073.2 L649.4 1086.5 L637.7 1099.9 L634.4 1113.2 L639.4 1123.2 L631.1 1136.5 L637.7 1153.2 L651.1 1159.8 L637.7 1173.2 L624.4 1189.8 L627.7 1199.8 L617.8 1203.1 L614.4 1219.8 L601.1 1224.8 M491.2 856 L504.5 860 L594.4 885 L674.4 923.3 L711 941.6 M627.7 1199.8 L641.1 1219.8 L647.7 1246.4 L661.1 1259.8 L657.7 1279.8 L652.7 1286.4 L661.1 1306.4 L671.1 1326.4 L677.7 1353.1 L684.4 1378 L697.7 1379.7 M697.7 1379.7 L711 1383 L707.7 1399.7 L701 1416.4 L677.7 1426.3 L662.7 1434.7 L659.4 1446.3 L664.4 1456.3 L657.7 1469.7 L661.1 1486.3 L657.7 1506.3 L667.7 1516.3 L657.7 1521.3 L644.4 1533 L634.4 1552.9 L621.1 1569.6 L619.4 1577.9 M619.9 1579.8 L614.9 1586.5 L609.9 1599.8 L614.9 1619.8 L606.5 1629.8 L599.9 1653.1 L593.2 1663.1 L596.5 1676.5 L601.5 1686.4 L606.5 1703.1 L613.2 1726.4 L616.5 1746.4 L616.5 1759.7 L606.5 1769.7 L601.5 1783.1 L593.2 1796.4 L599.9 1813 L589.9 1826.4 L576.6 1833 L573.2 1849.7 L573.2 1873 L578.2 1893 L581.6 1906.3 L566.6 1913 L561.6 1933 L553.2 1939.6 L554.9 1959.6 L548.2 1976.3 L549.9 1999.6 L553.2 2017.9 M552.5 2018.2 L543.2 2025.5 L541.5 2045.5 L548.2 2062.2 L556.5 2082.2 L551.5 2098.8 L574.9 2100.5 L569.9 2110.5 L546.5 2112.1 L563.2 2118.8 L568.2 2128.8 L556.5 2138.8 L551.5 2155.4 L556.5 2175.4 L548.2 2185.4 L543.2 2198.8 L533.2 2208.8 L531.6 2232.1 L523.2 2242.1 L519.9 2252.1 L503.2 2262.1 L494.9 2272 L494.9 2288.7 L503.2 2302 L511.6 2310.4 L526.6 2307 L536.5 2315.4 L533.2 2342 L548.2 2352 L613.2 2352 L631.5 2358.7 L658.1 2365.3 M658.1 2367 L658.1 2466.9 M640 978.3 L656.7 983.3 L673.3 973.3 L686.6 966.6 L700 959.9 L723.3 941.6 L739.9 940 L766.6 938.3 L768.3 959.9 L766.6 973.3 L771.6 999.9 L779.9 1013.2 L796.6 1026.6 L819.9 1031.6 L839.9 1041.6 L866.5 1053.2 L886.5 1064.9 L906.5 1063.2 L923.2 1068.2 L931.5 1076.5 L933.2 1093.2 L938.2 1106.5 L936.5 1116.5 L928.2 1118.2 L939.8 1133.2 L941.5 1156.5 L1001.5 1158.2 L1003.1 1163.2 L998.1 1173.2 L1003.1 1186.5 L1016.5 1196.5 L1026.4 1209.8 L1031.4 1221.5 M722.6 936.6 L729.9 928.3 L736.6 926.6 L756.6 926.6 L761.6 930.6 L766.6 925 L773.3 925 L783.3 920 L788.2 926.6 L799.9 911.6 L813.2 890 L826.6 878.3 L849.9 878.3 L859.9 890 L873.2 901.6 L886.5 905 L894.9 908.3 L893.2 933.3 L896.5 953.3 L894.9 978.3 L948.2 984.9 L944.8 1006.6 L953.2 1024.9 L939.8 1039.9 L933.2 1059.9 L923.2 1068.2 M894.9 908.3 L999.8 906.6 L1001.5 893.3 L1006.5 860 M1023.1 1199.8 L1033.1 1208.1 L1053.1 1196.5 L1076.4 1188.1 L1099.7 1198.1 L1123.1 1199.8 L1146.4 1199.8 L1158 1189.8 L1158 1209.8 L1149.7 1211.5 L1173 1214.8 M1018.1 1281.4 L979.8 1258.1 L946.5 1258.1 L886.5 1269.8 L869.9 1299.8 L868.2 1323.1 L858.2 1354.7 M1031.4 1221.5 L1023.1 1246.4 L1008.1 1276.4 L1018.1 1281.4 L1008.1 1286.4 L1016.5 1306.4 L1018.1 1326.4 L1014.8 1349.7 L1033.1 1356.4 L1056.4 1358.1 L1066.4 1353.1 L1086.4 1359.7 L1093.1 1379.7 L1098.1 1399.7 L1103.1 1414.7 L1119.7 1413 L1129.7 1409.7 L1138.1 1416.4 M858.2 1354.7 L873.2 1373 L886.5 1389.7 L909.8 1406.4 L933.2 1416.4 L956.5 1426.3 L976.5 1439.7 L1003.1 1449.7 L1019.8 1473 L1009.8 1486.3 L1006.5 1503 L993.1 1523 L1006.5 1526.3 L1039.8 1528 L1059.8 1529.6 L1086.4 1524.6 L1106.4 1513 L1119.7 1499.6 L1128.1 1473 L1133.1 1446.3 L1138.1 1416.4 M683.3 1378 L703.3 1376.4 L710 1366.4 L720 1358.1 L738.3 1353.1 L741.6 1344.7 L751.6 1353.1 L786.6 1354.7 L794.9 1359.7 L801.6 1378 L814.9 1349.1 L853.2 1349.1 L858.2 1354.7 M951.9 332.9 L941.9 342.9 L928.6 351.2 L923.6 361.2 L926.9 372.9 L935.2 374.6 L925.2 382.9 L910.2 389.5 L906.9 404.5 L900.2 412.9 L915.2 431.2 L925.2 444.5 M925.2 444.5 L921.9 454.5 L905.2 461.2 L891.9 467.8 L878.6 472.8 L861.9 476.2 L851.9 481.2 L848.6 489.5 L835.3 479.5 L818.6 481.2 L802 474.5 L785.3 471.2 L795.3 484.5 L805.3 494.5 L807 511.1 L812 527.8 L833.6 531.1 L833.6 539.5 L813.6 546.1 L808.6 557.8 L798.6 566.1 L778.7 574.4 L768.7 581.1 L762 589.4 L752 579.4 M925.2 444.5 L925.2 437.9 L941.9 436.2 L948.6 447.8 L943.6 461.2 L955.2 464.5 L961.9 479.5 L953.6 491.2 L960.2 504.5 L951.9 524.5 L955.2 544.5 L968.5 561.1 L983.5 571.1 L998.5 566.1 L1015.2 556.1 L1035.2 546.1 L1056.8 546.1 M833.6 539.5 L851.9 544.5 L858.6 564.4 L863.6 587.8 L868.6 611.1 L871.9 624.4 L863.6 639.4 L880.3 654.4 L895.3 662.7 L895.3 639.4 L908.6 629.4 L921.9 639.4 L933.6 634.4 L938.6 617.8 L945.2 604.4 L983.5 603.8 L983.5 571.1 M983.5 603.8 L985.2 624.4 L995.2 641.1 L1011.9 657.7 L1035.2 671.1 L1055.2 684.4 L1076.8 681 L1065.2 694.4 L999.9 832.6 M1043.5 411.2 L1038.5 424.5 L1035.2 441.2 L1018.5 444.5 L1015.2 464.5 L1011.9 474.5 L1018.5 484.5 L1025.2 497.8 L1035.2 499.5 L1041.8 514.5 L1050.2 531.1 L1056.8 546.1 M1148.4 419.5 L1133.5 444.5 L1131.8 461.2 L1136.8 477.8 L1145.1 494.5 L1141.8 511.1 L1136.8 524.5 L1133.5 536.1 M1056.8 546.1 L1078.5 549.5 L1081.8 534.5 L1078.5 529.5 L1098.5 529.5 L1115.1 524.5 L1118.5 531.1 L1133.5 536.1 M1228.4 464.5 L1218.4 484.5 L1201.7 511.1 L1185.1 536.1 L1175.1 539.5 L1161.8 534.5 L1148.4 537.8 L1133.5 536.1 M1118.5 531.1 L1121.8 549.5 L1141.8 557.8 L1165.1 571.1 L1175.1 594.4 L1185.1 617.8 L1198.4 637.7 L1201.7 647.7 L1213.4 652.7 L1225.1 647.7 L1235.1 626.1 L1258.4 611.1 L1281.7 591.1 M1000 831.5 L998.3 839.9 L1006.6 853.2 L1008.3 859.9 L1001.6 876.5 L1000 906.5 L960 906.5 M1008.3 859.9 L1018.3 883.2 L1026.6 903.2 L1043.3 919.8 L1056.6 926.5 L1273.2 941.5 M1273.2 941.5 L1284.8 919.8 L1296.5 903.2 L1306.5 883.2 L1303.1 863.2 L1308.1 843.2 L1319.8 833.2 L1329.8 823.2 L1336.5 806.6 L1339.8 793.2 L1326.5 789.9 L1353.1 766.6 L1366.4 753.3 L1379.8 729.9 L1389.8 709.9 L1396.4 690 L1406.4 670 L1409.7 651.6 M1326.5 789.9 L1343.1 788.2 L1356.4 793.2 L1366.4 806.6 L1368.1 826.5 L1363.1 846.5 L1358.1 854.9 L1369.8 866.5 L1383.1 883.2 L1396.4 878.2 L1398.1 889.8 L1386.4 899.8 L1383.1 914.8 L1393.1 928.2 L1399.8 944.8 L1409.7 951.5 L1419.7 953.1 M1273.2 941.5 L1264.8 963.1 L1259.8 986.5 L1258.2 1006.4 L1261.5 1029.8 L1264.8 1041.4 L1258.2 1063.1 L1253.2 1086.4 L1243.2 1113.1 L1226.5 1119.7 L1223.2 1133 L1206.5 1146.4 L1189.9 1159.7 L1179.9 1179.7 L1173.2 1199.7 L1176.5 1216.3 L1178.2 1233 M1264.8 1041.4 L1274.8 1029.8 L1271.5 1041.4 L1286.5 1044.8 L1303.1 1053.1 L1309.8 1043.1 L1318.1 1041.4 L1328.1 1056.4 L1343.1 1053.1 L1359.8 1059.8 L1373.1 1051.4 L1389.8 1046.4 L1408.1 1044.8 M1419.7 953.1 L1406.4 969.8 L1396.4 986.5 L1403.1 999.8 L1406.4 1019.8 L1408.1 1044.8 L1406.4 1063.1 L1408.1 1086.4 L1414.7 1099.7 L1414.7 1119.7 M1419.7 953.1 L1421.4 919.8 L1416.4 906.5 L1426.4 883.2 L1433.1 866.5 L1459.7 853.2 L1486.4 839.9 L1516.4 833.2 L1521.3 816.6 L1513 799.9 L1519.7 753.3 L1534 729.9 M1419.7 953.1 L1433.1 951.5 L1439.7 966.5 L1453.1 974.8 L1469.7 966.5 L1486.4 953.1 L1493 933.2 L1499.7 923.2 L1523 931.5 L1534 928.2 M1414.7 1119.7 L1403.1 1113.1 L1396.4 1123 L1383.1 1129.7 L1373.1 1143 L1371.4 1159.7 M1414.7 1119.7 L1426.4 1113.1 L1449.7 1099.7 L1473 1089.7 L1489.7 1093.1 L1489.7 1103.1 L1513 1104.7 L1534 1113.1 M1555.9 704.6 L1545.9 724.6 L1534.2 729.9 M1572.5 709.6 L1570.9 727.9 L1577.5 751.2 L1584.2 777.9 L1589.2 821.2 L1600.8 839.5 L1595.8 859.5 L1597.5 881.1 L1575.9 901.1 M1575.9 901.1 L1589.2 914.5 L1592.5 927.8 L1605.8 922.8 L1609.2 914.5 L1635.8 899.5 L1662.5 907.8 L1675.8 921.1 L1690.8 909.5 L1705.8 921.1 L1722.4 926.1 L1742.4 911.1 L1769.1 906.1 L1780.7 907.8 M1575.9 901.1 L1545.9 921.1 L1533.9 928.1 M1694.1 776.2 L1679.1 801.2 L1664.1 824.5 L1659.1 847.8 L1662.5 859.5 M1595.8 859.5 L1625.8 857.8 L1639.2 867.8 L1647.5 874.5 L1662.5 859.5 M1662.5 826.2 L1682.5 827.8 L1702.5 817.8 L1712.4 814.5 L1702.5 831.2 L1715.8 839.5 L1730.8 842.8 L1734.1 826.2 L1755.8 824.5 L1772.4 827.8 M1662.5 859.5 L1679.1 869.5 L1699.1 859.5 L1714.1 857.8 L1705.8 874.5 L1717.4 887.8 L1732.4 877.8 L1755.8 867.8 L1774.1 862.8 M1675.8 921.1 L1695.8 934.4 L1719.1 954.4 L1735.8 964.4 M1680.8 931.1 L1687.5 954.4 L1689.1 967.8 L1675.8 972.8 L1684.1 987.7 L1699.1 997.7 L1705.8 999.4 M1532.5 1111 L1555.9 1119.3 L1569.2 1131 L1572.5 1141 L1592.5 1137.7 L1612.5 1144.3 L1620.8 1152.7 L1612.5 1167.6 L1605.8 1177.6 L1597.5 1194.3 L1602.5 1204.3 L1610.8 1217.6 L1627.5 1235.9 M1610.8 1217.6 L1592.5 1224.3 L1582.5 1234.3 L1579.2 1247.6 L1584.2 1255.9 M1599.7 1210 L1583.1 1216.7 L1578.1 1228.3 L1583.1 1240 L1576.4 1243.3 L1584.7 1256.6 L1579.7 1270 L1573.1 1286.6 L1556.4 1288.3 L1554.7 1306.6 L1559.7 1318.3 L1583.1 1323.3 M1554.7 1306.6 L1543.1 1323.3 L1539.8 1336.6 L1519.8 1341.6 L1499.8 1346.6 L1476.5 1353.2 L1453.1 1359.9 L1424.8 1368.2 L1403.2 1373.2 M1424.8 1368.2 L1424.8 1379.9 M1180 1366.6 L1209.9 1366.6 L1233.3 1371.6 L1253.2 1379.9 L1279.9 1379.9 L1291.6 1391.6 L1296.6 1406.5 L1303.2 1419.9 L1308.2 1433.2 L1313.2 1438.2 L1329.9 1438.2 L1333.2 1446.5 L1344.9 1463.2 M1180 1366.6 L1160 1383.2 L1146.6 1399.9 L1140 1416.5 M1127.3 1469 L1134.6 1466.9 L1145.1 1465.8 L1151.3 1471 L1154.5 1483.6 L1158.6 1491.9 L1158.6 1504.5 L1157.6 1517 L1155.5 1521.2 M1158.6 1491.9 L1178.5 1495.1 L1199.4 1498.2 L1220.3 1502.4 L1234.9 1505.5 L1240.1 1496.1 L1249.5 1489.8 L1262.1 1483.6 L1278.8 1484.6 L1297.6 1489.8 L1314.3 1483.6 L1328.9 1482.5 M1155.5 1521.2 L1168 1519.1 L1180.6 1520.1 L1197.3 1525.4 L1214 1529.5 L1226.6 1533.7 L1237 1540 L1247.4 1550.4 L1257.9 1560.9 L1272.5 1565.1 L1291.3 1567.2 L1291.3 1571.3 L1284 1573.4 L1283 1586 L1278.8 1590.1 L1287.1 1591.2 L1292.4 1591.2 M1155.5 1521.2 L1143 1525.4 L1130.4 1531.6 L1117.9 1537.9 L1105.4 1546.3 L1090.7 1556.7 L1080.3 1567.2 L1069.8 1579.7 L1059.4 1592.2 L1049 1603.7 L1038.5 1613.1 L1027 1623.6 M1027 1623.6 L1017.6 1634 L1018.7 1646.6 L1013.4 1663.3 L1007.2 1677.9 L1008.2 1692.5 L1009.3 1707.1 L1011.3 1717.6 L1000.9 1720.7 L996.7 1732.2 L997.8 1744.8 L1003 1755.2 L1011.3 1761.5 L1028.1 1767.7 L1042.7 1776.1 M1027 1623.6 L1031.2 1625.7 L1040.6 1620.4 L1051 1619.4 L1061.5 1627.7 L1071.9 1638.2 L1080.3 1644.5 L1082.4 1651.8 L1092.8 1644.5 L1101.2 1653.9 L1113.7 1661.2 L1126.3 1665.4 L1134.6 1673.7 L1147.2 1680 L1155.5 1686.3 L1161.8 1696.7 L1170.1 1701.9 L1178.5 1705.1 L1180.6 1700.9 M1182.7 1711.3 L1174.3 1715.5 L1166 1726 L1163.9 1738.5 L1167 1740.6 M1181.3 1224.9 L1184.8 1233.6 L1198.8 1240.5 L1212.7 1247.5 L1226.6 1252.7 L1238.8 1258 L1249.3 1264.9 M1150 1210.9 L1160.4 1215.3 L1177.9 1215.3 M1249.3 1264.9 L1254.5 1256.2 L1263.2 1249.3 L1271.9 1238.8 L1285.8 1233.6 L1298 1231 L1303.2 1235.3 L1310.2 1228.4 L1318.9 1224.9 L1332.8 1226.6 L1341.5 1225.7 L1352 1231 L1362.4 1224.9 L1372.9 1216.2 L1371.1 1204 L1364.2 1193.5 L1371.1 1184.8 L1378.1 1179.6 L1374.6 1169.2 L1367.7 1160.4 L1372.9 1150 M1249.3 1264.9 L1246.6 1271.9 L1247.5 1280.6 L1244 1287.6 L1235.3 1294.5 L1228.4 1303.2 L1224.9 1313.7 L1217.9 1322.4 L1214.4 1332.8 L1207.5 1341.5 L1200.5 1350.2 L1193.5 1357.2 L1181.3 1366.8 M1247.5 1280.6 L1254.5 1277.1 L1263.2 1274.5 L1271.9 1277.1 L1285.8 1278.9 L1298 1279.7 L1305.8 1282.3 L1306.7 1289.3 L1311.9 1291.9 L1314.5 1287.6 L1317.2 1296.3 L1319.8 1289.3 L1332.8 1285.8 L1341.5 1284.1 L1353.7 1283.2 L1365.9 1280.6 L1372.9 1289.3 L1376.4 1303.2 L1376.4 1311.9 L1381.6 1324.1 L1390.3 1327.6 L1398.1 1331.1 L1396.4 1339.8 L1392.9 1346.8 L1393.8 1355.5 L1397.3 1364.2 L1402.5 1371.1 L1406.8 1378.1"/>
</g>
<filter id="ol" x="-20%" y="-20%" width="140%" height="140%"><feGaussianBlur in="SourceAlpha" stdDeviation="2.1"/><feComponentTransfer><feFuncA type="linear" slope="40" intercept="-2.0"/></feComponentTransfer><feColorMatrix type="matrix" values="0 0 0 0 0  0 0 0 0 0  0 0 0 0 0  0 0 0 1 0" result="o"/><feMerge><feMergeNode in="o"/><feMergeNode in="SourceGraphic"/></feMerge></filter>
<g font-size="43.3" fill="#fff" stroke="#fff" stroke-width="0.9" stroke-linejoin="round" filter="url(#ol)">
<text x="697.7" y="270.6" textLength="52.8" lengthAdjust="spacingAndGlyphs">27</text>
<text x="456.0" y="468.6" textLength="52.9" lengthAdjust="spacingAndGlyphs">17</text>
<text x="309.3" y="629.6" textLength="52.9" lengthAdjust="spacingAndGlyphs">20</text>
<text x="993.4" y="396.6" textLength="52.8" lengthAdjust="spacingAndGlyphs">29</text>
<text x="1095.4" y="426.6" textLength="52.8" lengthAdjust="spacingAndGlyphs">29</text>
<text x="1183.3" y="456.6" textLength="53.1" lengthAdjust="spacingAndGlyphs">30</text>
<text x="907.9" y="528.6" textLength="53.1" lengthAdjust="spacingAndGlyphs">30</text>
<text x="929.3" y="726.6" textLength="53.1" lengthAdjust="spacingAndGlyphs">30</text>
<text x="1228.6" y="621.6" textLength="53.2" lengthAdjust="spacingAndGlyphs">33</text>
<text x="1315.0" y="671.6" textLength="53.0" lengthAdjust="spacingAndGlyphs">32</text>
<text x="1455.8" y="706.6" textLength="53.1" lengthAdjust="spacingAndGlyphs">31</text>
<text x="1647.8" y="750.2" textLength="53.1" lengthAdjust="spacingAndGlyphs">31</text>
<text x="1505.2" y="793.6" textLength="53.2" lengthAdjust="spacingAndGlyphs">33</text>
<text x="1760.8" y="816.6" textLength="52.8" lengthAdjust="spacingAndGlyphs">29</text>
<text x="1774.0" y="858.6" textLength="53.1" lengthAdjust="spacingAndGlyphs">30</text>
<text x="1772.8" y="891.6" textLength="53.1" lengthAdjust="spacingAndGlyphs">31</text>
<text x="1742.4" y="945.1" textLength="52.8" lengthAdjust="spacingAndGlyphs">29</text>
<text x="1697.4" y="988.4" textLength="52.8" lengthAdjust="spacingAndGlyphs">29</text>
<text x="1650.2" y="1056.6" textLength="52.8" lengthAdjust="spacingAndGlyphs">27</text>
<text x="1319.0" y="965.2" textLength="53.0" lengthAdjust="spacingAndGlyphs">32</text>
<text x="1334.2" y="1151.0" textLength="52.9" lengthAdjust="spacingAndGlyphs">25</text>
<text x="1289.2" y="1182.0" textLength="52.8" lengthAdjust="spacingAndGlyphs">29</text>
<text x="1060.3" y="1145.4" textLength="53.1" lengthAdjust="spacingAndGlyphs">30</text>
<text x="1108.8" y="1307.0" textLength="53.1" lengthAdjust="spacingAndGlyphs">30</text>
<text x="1467.0" y="1289.6" textLength="52.8" lengthAdjust="spacingAndGlyphs">22</text>
<text x="668.0" y="957.2" textLength="53.1" lengthAdjust="spacingAndGlyphs">30</text>
<text x="798.9" y="915.6" textLength="53.1" lengthAdjust="spacingAndGlyphs">30</text>
<text x="654.4" y="1173.6" textLength="53.0" lengthAdjust="spacingAndGlyphs">14</text>
<text x="1011.3" y="1470.3" textLength="52.9" lengthAdjust="spacingAndGlyphs">26</text>
<text x="359.5" y="1023.8" textLength="52.9" lengthAdjust="spacingAndGlyphs">20</text>
<text x="1588.0" y="1303.9" textLength="52.9" lengthAdjust="spacingAndGlyphs">26</text>
<text x="1491.1" y="1390.6" textLength="52.9" lengthAdjust="spacingAndGlyphs">24</text>
<text x="1377.4" y="1412.2" textLength="53.1" lengthAdjust="spacingAndGlyphs">18</text>
<text x="1287.5" y="1475.5" textLength="53.1" lengthAdjust="spacingAndGlyphs">18</text>
<text x="1313.2" y="1547.1" textLength="52.9" lengthAdjust="spacingAndGlyphs">20</text>
<text x="1222.1" y="1628.7" textLength="52.9" lengthAdjust="spacingAndGlyphs">21</text>
<text x="982.4" y="1787.2" textLength="53.1" lengthAdjust="spacingAndGlyphs">18</text>
<text x="1055.7" y="1788.9" textLength="52.9" lengthAdjust="spacingAndGlyphs">19</text>
<text x="575.0" y="1740.4" textLength="53.0" lengthAdjust="spacingAndGlyphs">16</text>
</g>
<g transform="translate(1610 2230) scale(0.13929)">
<path d="M220 830 C225 930 260 1080 330 1200 C400 1310 540 1400 720 1403 C900 1400 1040 1320 1150 1190 C1260 1060 1335 900 1350 720 L1405 720 L1230 548 L1045 720 L1105 720 C1100 820 1060 960 960 1090 C880 1190 770 1250 640 1250 C500 1245 390 1160 320 1060 C270 990 235 900 220 830 Z" fill="#0072bc"/>
<path d="M222 870 C215 740 270 600 380 520 C480 450 620 430 740 475 C850 520 905 640 910 795 L965 795 L783 945 L630 795 L688 795 C690 720 640 660 560 640 C470 620 380 670 320 740 C265 810 240 880 236 950" fill="none" stroke="#0072bc" stroke-width="13" stroke-linejoin="miter"/>
<circle cx="783" cy="1095" r="123" fill="#f29400"/>
<text x="296" y="1006" font-size="172" font-weight="bold" font-style="italic" fill="#111" textLength="368" lengthAdjust="spacingAndGlyphs">INPE</text>
</g>
</g>
<line x1="276.825" y1="177.7" x2="276.825" y2="2487" stroke="#000" stroke-opacity="0.02" stroke-width="2"/>
<line x1="611.825" y1="177.7" x2="611.825" y2="2487" stroke="#000" stroke-opacity="0.02" stroke-width="2"/>
<line x1="946.825" y1="177.7" x2="946.825" y2="2487" stroke="#000" stroke-opacity="0.02" stroke-width="2"/>
<line x1="1281.83" y1="177.7" x2="1281.83" y2="2487" stroke="#000" stroke-opacity="0.02" stroke-width="2"/>
<line x1="1616.83" y1="177.7" x2="1616.83" y2="2487" stroke="#000" stroke-opacity="0.02" stroke-width="2"/>
<line x1="178" y1="2288" x2="1851.5" y2="2288" stroke="#000" stroke-opacity="0.02" stroke-width="2"/>
<line x1="178" y1="1953" x2="1851.5" y2="1953" stroke="#000" stroke-opacity="0.02" stroke-width="2"/>
<line x1="178" y1="1618" x2="1851.5" y2="1618" stroke="#000" stroke-opacity="0.02" stroke-width="2"/>
<line x1="178" y1="1283" x2="1851.5" y2="1283" stroke="#000" stroke-opacity="0.02" stroke-width="2"/>
<line x1="178" y1="948" x2="1851.5" y2="948" stroke="#000" stroke-opacity="0.02" stroke-width="2"/>
<line x1="178" y1="613" x2="1851.5" y2="613" stroke="#000" stroke-opacity="0.02" stroke-width="2"/>
<line x1="178" y1="278" x2="1851.5" y2="278" stroke="#000" stroke-opacity="0.02" stroke-width="2"/>
<rect x="178" y="177.7" width="1673.5" height="2309.3" fill="none" stroke="#000" stroke-width="3.5"/>
<text x="533.6" y="80.1" font-size="64.7" textLength="938.9" lengthAdjust="spacingAndGlyphs" >SAMeT - Temperatura Máxima</text>
<text x="660.8" y="152.6" font-size="64.7" textLength="730.4" lengthAdjust="spacingAndGlyphs" >Válida para 25/05/2006</text>
<text x="29.5" y="293.0" font-size="51.7" textLength="125.9" lengthAdjust="spacingAndGlyphs" >10°N</text>
<text x="98.5" y="628.0" font-size="51.7" textLength="56.8" lengthAdjust="spacingAndGlyphs" >0°</text>
<text x="33.0" y="963.0" font-size="51.7" textLength="120.1" lengthAdjust="spacingAndGlyphs" >10°S</text>
<text x="33.0" y="1298.0" font-size="51.7" textLength="120.1" lengthAdjust="spacingAndGlyphs" >20°S</text>
<text x="33.0" y="1633.0" font-size="51.7" textLength="120.1" lengthAdjust="spacingAndGlyphs" >30°S</text>
<text x="33.0" y="1968.0" font-size="51.7" textLength="120.1" lengthAdjust="spacingAndGlyphs" >40°S</text>
<text x="33.0" y="2303.0" font-size="51.7" textLength="120.1" lengthAdjust="spacingAndGlyphs" >50°S</text>
<text x="206.6" y="2547.3" font-size="51.7" textLength="138.0" lengthAdjust="spacingAndGlyphs" >80°W</text>
<text x="541.3" y="2547.3" font-size="51.7" textLength="138.1" lengthAdjust="spacingAndGlyphs" >70°W</text>
<text x="876.6" y="2547.3" font-size="51.7" textLength="138.1" lengthAdjust="spacingAndGlyphs" >60°W</text>
<text x="1211.4" y="2547.3" font-size="51.7" textLength="138.0" lengthAdjust="spacingAndGlyphs" >50°W</text>
<text x="1547.1" y="2547.3" font-size="51.7" textLength="138.0" lengthAdjust="spacingAndGlyphs" >40°W</text>
<g>
<path d="M1893.5 282.8 L1919.15 177.8 L1944.8 282.8 Z" fill="#67001f"/>
<path d="M1893.5 2380.9 L1919.15 2485.9 L1944.8 2380.9 Z" fill="#053061"/>
<rect x="1893.5" y="282.30" width="51.3" height="23.92" fill="#6a011f"/>
<rect x="1893.5" y="305.62" width="51.3" height="23.92" fill="#730421"/>
<rect x="1893.5" y="328.95" width="51.3" height="23.92" fill="#7c0722"/>
<rect x="1893.5" y="352.27" width="51.3" height="23.92" fill="#810823"/>
<rect x="1893.5" y="375.59" width="51.3" height="23.92" fill="#8a0b25"/>
<rect x="1893.5" y="398.92" width="51.3" height="23.92" fill="#930e26"/>
<rect x="1893.5" y="422.24" width="51.3" height="23.92" fill="#9c1127"/>
<rect x="1893.5" y="445.56" width="51.3" height="23.92" fill="#a51429"/>
<rect x="1893.5" y="468.89" width="51.3" height="23.92" fill="#ae172a"/>
<rect x="1893.5" y="492.21" width="51.3" height="23.92" fill="#b41c2d"/>
<rect x="1893.5" y="515.53" width="51.3" height="23.92" fill="#b72230"/>
<rect x="1893.5" y="538.86" width="51.3" height="23.92" fill="#bb2a34"/>
<rect x="1893.5" y="562.18" width="51.3" height="23.92" fill="#bf3338"/>
<rect x="1893.5" y="585.50" width="51.3" height="23.92" fill="#c43b3c"/>
<rect x="1893.5" y="608.83" width="51.3" height="23.92" fill="#c84440"/>
<rect x="1893.5" y="632.15" width="51.3" height="23.92" fill="#cc4c44"/>
<rect x="1893.5" y="655.47" width="51.3" height="23.92" fill="#cf5246"/>
<rect x="1893.5" y="678.80" width="51.3" height="23.92" fill="#d35a4a"/>
<rect x="1893.5" y="702.12" width="51.3" height="23.92" fill="#d7634f"/>
<rect x="1893.5" y="725.44" width="51.3" height="23.92" fill="#db6b55"/>
<rect x="1893.5" y="748.77" width="51.3" height="23.92" fill="#de735c"/>
<rect x="1893.5" y="772.09" width="51.3" height="23.92" fill="#e27b62"/>
<rect x="1893.5" y="795.41" width="51.3" height="23.92" fill="#e48066"/>
<rect x="1893.5" y="818.74" width="51.3" height="23.92" fill="#e8896c"/>
<rect x="1893.5" y="842.06" width="51.3" height="23.92" fill="#eb9172"/>
<rect x="1893.5" y="865.38" width="51.3" height="23.92" fill="#ef9979"/>
<rect x="1893.5" y="888.71" width="51.3" height="23.92" fill="#f2a17f"/>
<rect x="1893.5" y="912.03" width="51.3" height="23.92" fill="#f5a886"/>
<rect x="1893.5" y="935.35" width="51.3" height="23.92" fill="#f6af8e"/>
<rect x="1893.5" y="958.68" width="51.3" height="23.92" fill="#f6b394"/>
<rect x="1893.5" y="982.00" width="51.3" height="23.92" fill="#f7b99c"/>
<rect x="1893.5" y="1005.32" width="51.3" height="23.92" fill="#f8bfa4"/>
<rect x="1893.5" y="1028.65" width="51.3" height="23.92" fill="#f9c6ac"/>
<rect x="1893.5" y="1051.97" width="51.3" height="23.92" fill="#fbccb4"/>
<rect x="1893.5" y="1075.29" width="51.3" height="23.92" fill="#fcd3bc"/>
<rect x="1893.5" y="1098.62" width="51.3" height="23.92" fill="#fcd7c2"/>
<rect x="1893.5" y="1121.94" width="51.3" height="23.92" fill="#fddcc9"/>
<rect x="1893.5" y="1145.26" width="51.3" height="23.92" fill="#fcdfcf"/>
<rect x="1893.5" y="1168.59" width="51.3" height="23.92" fill="#fbe3d4"/>
<rect x="1893.5" y="1191.91" width="51.3" height="23.92" fill="#fbe6da"/>
<rect x="1893.5" y="1215.23" width="51.3" height="23.92" fill="#fae9df"/>
<rect x="1893.5" y="1238.56" width="51.3" height="23.92" fill="#f9ede5"/>
<rect x="1893.5" y="1261.88" width="51.3" height="23.92" fill="#f9efe9"/>
<rect x="1893.5" y="1285.20" width="51.3" height="23.92" fill="#f8f2ef"/>
<rect x="1893.5" y="1308.53" width="51.3" height="23.92" fill="#f7f5f4"/>
<rect x="1893.5" y="1331.85" width="51.3" height="23.92" fill="#f5f6f7"/>
<rect x="1893.5" y="1355.17" width="51.3" height="23.92" fill="#f0f4f6"/>
<rect x="1893.5" y="1378.50" width="51.3" height="23.92" fill="#ecf2f5"/>
<rect x="1893.5" y="1401.82" width="51.3" height="23.92" fill="#e9f0f4"/>
<rect x="1893.5" y="1425.14" width="51.3" height="23.92" fill="#e4eef4"/>
<rect x="1893.5" y="1448.47" width="51.3" height="23.92" fill="#e0ecf3"/>
<rect x="1893.5" y="1471.79" width="51.3" height="23.92" fill="#dbeaf2"/>
<rect x="1893.5" y="1495.11" width="51.3" height="23.92" fill="#d7e8f1"/>
<rect x="1893.5" y="1518.44" width="51.3" height="23.92" fill="#d2e6f0"/>
<rect x="1893.5" y="1541.76" width="51.3" height="23.92" fill="#cce2ef"/>
<rect x="1893.5" y="1565.08" width="51.3" height="23.92" fill="#c7e0ed"/>
<rect x="1893.5" y="1588.41" width="51.3" height="23.92" fill="#c0dceb"/>
<rect x="1893.5" y="1611.73" width="51.3" height="23.92" fill="#b8d8e9"/>
<rect x="1893.5" y="1635.05" width="51.3" height="23.92" fill="#b1d5e7"/>
<rect x="1893.5" y="1658.38" width="51.3" height="23.92" fill="#a9d1e5"/>
<rect x="1893.5" y="1681.70" width="51.3" height="23.92" fill="#a2cde3"/>
<rect x="1893.5" y="1705.02" width="51.3" height="23.92" fill="#9dcbe1"/>
<rect x="1893.5" y="1728.35" width="51.3" height="23.92" fill="#96c7df"/>
<rect x="1893.5" y="1751.67" width="51.3" height="23.92" fill="#8dc2dc"/>
<rect x="1893.5" y="1774.99" width="51.3" height="23.92" fill="#84bcd9"/>
<rect x="1893.5" y="1798.32" width="51.3" height="23.92" fill="#7bb6d6"/>
<rect x="1893.5" y="1821.64" width="51.3" height="23.92" fill="#71b0d3"/>
<rect x="1893.5" y="1844.96" width="51.3" height="23.92" fill="#6bacd1"/>
<rect x="1893.5" y="1868.29" width="51.3" height="23.92" fill="#62a7ce"/>
<rect x="1893.5" y="1891.61" width="51.3" height="23.92" fill="#59a1ca"/>
<rect x="1893.5" y="1914.93" width="51.3" height="23.92" fill="#4f9bc7"/>
<rect x="1893.5" y="1938.26" width="51.3" height="23.92" fill="#4695c4"/>
<rect x="1893.5" y="1961.58" width="51.3" height="23.92" fill="#408fc1"/>
<rect x="1893.5" y="1984.90" width="51.3" height="23.92" fill="#3c8abe"/>
<rect x="1893.5" y="2008.23" width="51.3" height="23.92" fill="#3a87bd"/>
<rect x="1893.5" y="2031.55" width="51.3" height="23.92" fill="#3681ba"/>
<rect x="1893.5" y="2054.87" width="51.3" height="23.92" fill="#327cb7"/>
<rect x="1893.5" y="2078.20" width="51.3" height="23.92" fill="#2e77b5"/>
<rect x="1893.5" y="2101.52" width="51.3" height="23.92" fill="#2a71b2"/>
<rect x="1893.5" y="2124.84" width="51.3" height="23.92" fill="#266caf"/>
<rect x="1893.5" y="2148.17" width="51.3" height="23.92" fill="#2369ad"/>
<rect x="1893.5" y="2171.49" width="51.3" height="23.92" fill="#1f63a8"/>
<rect x="1893.5" y="2194.81" width="51.3" height="23.92" fill="#1c5c9f"/>
<rect x="1893.5" y="2218.14" width="51.3" height="23.92" fill="#195696"/>
<rect x="1893.5" y="2241.46" width="51.3" height="23.92" fill="#15508d"/>
<rect x="1893.5" y="2264.78" width="51.3" height="23.92" fill="#124984"/>
<rect x="1893.5" y="2288.11" width="51.3" height="23.92" fill="#0f437b"/>
<rect x="1893.5" y="2311.43" width="51.3" height="23.92" fill="#0d3f76"/>
<rect x="1893.5" y="2334.75" width="51.3" height="23.92" fill="#09386d"/>
<rect x="1893.5" y="2358.08" width="51.3" height="23.92" fill="#063264"/>
<path d="M1893.5 282.3 L1919.15 181.8 L1944.8 282.3 L1944.8 2381.4 L1919.15 2481.9 L1893.5 2381.4 Z" fill="none" stroke="#000" stroke-width="3.4" stroke-linejoin="miter" stroke-miterlimit="10"/>
<line x1="1946.3" y1="2381.4" x2="1960.3" y2="2381.4" stroke="#000" stroke-width="3.4"/>
<text x="1974.4" y="2400.7" font-size="51.7" textLength="49.9" lengthAdjust="spacingAndGlyphs" >-5</text>
<line x1="1946.3" y1="2148.2" x2="1960.3" y2="2148.2" stroke="#000" stroke-width="3.4"/>
<text x="1973.5" y="2167.5" font-size="51.7" textLength="31.8" lengthAdjust="spacingAndGlyphs" >0</text>
<line x1="1946.3" y1="1914.9" x2="1960.3" y2="1914.9" stroke="#000" stroke-width="3.4"/>
<text x="1972.9" y="1934.2" font-size="51.7" textLength="31.8" lengthAdjust="spacingAndGlyphs" >5</text>
<line x1="1946.3" y1="1681.7" x2="1960.3" y2="1681.7" stroke="#000" stroke-width="3.4"/>
<text x="1971.3" y="1701.0" font-size="51.7" textLength="63.5" lengthAdjust="spacingAndGlyphs" >10</text>
<line x1="1946.3" y1="1448.5" x2="1960.3" y2="1448.5" stroke="#000" stroke-width="3.4"/>
<text x="1971.3" y="1467.8" font-size="51.7" textLength="63.5" lengthAdjust="spacingAndGlyphs" >15</text>
<line x1="1946.3" y1="1215.2" x2="1960.3" y2="1215.2" stroke="#000" stroke-width="3.4"/>
<text x="1973.1" y="1234.5" font-size="51.7" textLength="63.5" lengthAdjust="spacingAndGlyphs" >20</text>
<line x1="1946.3" y1="982.0" x2="1960.3" y2="982.0" stroke="#000" stroke-width="3.4"/>
<text x="1973.1" y="1001.3" font-size="51.7" textLength="63.5" lengthAdjust="spacingAndGlyphs" >25</text>
<line x1="1946.3" y1="748.8" x2="1960.3" y2="748.8" stroke="#000" stroke-width="3.4"/>
<text x="1973.0" y="768.1" font-size="51.7" textLength="63.5" lengthAdjust="spacingAndGlyphs" >30</text>
<line x1="1946.3" y1="515.5" x2="1960.3" y2="515.5" stroke="#000" stroke-width="3.4"/>
<text x="1973.0" y="534.8" font-size="51.7" textLength="63.5" lengthAdjust="spacingAndGlyphs" >35</text>
<line x1="1946.3" y1="282.3" x2="1960.3" y2="282.3" stroke="#000" stroke-width="3.4"/>
<text x="1974.4" y="301.6" font-size="51.7" textLength="63.5" lengthAdjust="spacingAndGlyphs" >40</text>
<text x="1842.7" y="175.0" font-size="51.7" textLength="98.8" lengthAdjust="spacingAndGlyphs" >(°C)</text>
</g>
</svg></body></html>
